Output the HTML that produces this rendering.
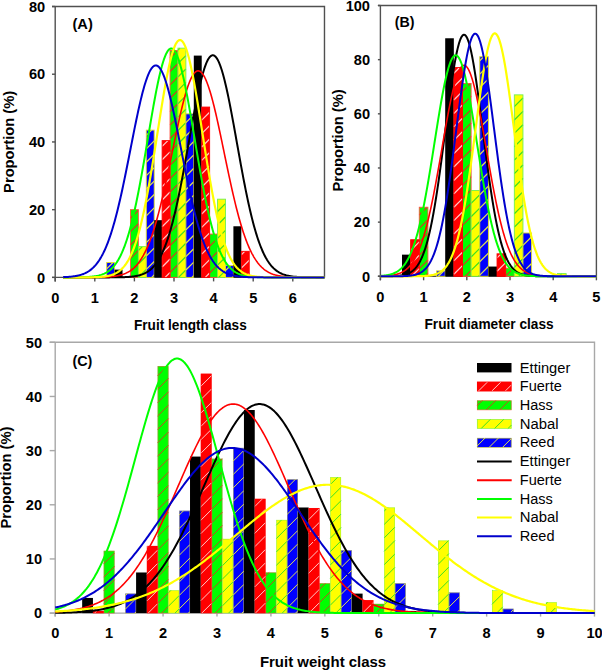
<!DOCTYPE html>
<html><head><meta charset="utf-8"><style>
html,body{margin:0;padding:0;background:#fff;}
svg{display:block;}
text{font-family:"Liberation Sans", sans-serif;fill:#000;}
</style></head><body>
<svg width="602" height="670" viewBox="0 0 602 670">

<path d="M52.00,6.50 H324.48 V277.40 M55.20,6.50 V281.40 M52.00,277.40 H324.48" fill="none" stroke="#505050" stroke-width="1.4"/>
<path d="M52.00,277.40 H55.20" stroke="#505050" stroke-width="1.4"/>
<path d="M52.00,209.67 H55.20" stroke="#505050" stroke-width="1.4"/>
<path d="M52.00,141.95 H55.20" stroke="#505050" stroke-width="1.4"/>
<path d="M52.00,74.22 H55.20" stroke="#505050" stroke-width="1.4"/>
<path d="M52.00,6.50 H55.20" stroke="#505050" stroke-width="1.4"/>
<path d="M55.20,277.40 V281.40" stroke="#505050" stroke-width="1.4"/>
<path d="M94.80,277.40 V281.40" stroke="#505050" stroke-width="1.4"/>
<path d="M134.40,277.40 V281.40" stroke="#505050" stroke-width="1.4"/>
<path d="M174.00,277.40 V281.40" stroke="#505050" stroke-width="1.4"/>
<path d="M213.60,277.40 V281.40" stroke="#505050" stroke-width="1.4"/>
<path d="M253.20,277.40 V281.40" stroke="#505050" stroke-width="1.4"/>
<path d="M292.80,277.40 V281.40" stroke="#505050" stroke-width="1.4"/>
<rect x="130.44" y="209.67" width="7.92" height="67.72" fill="#00ff00"/><path d="M130.44,218.26L138.36,210.34M130.44,231.66L138.36,223.74M130.44,245.06L138.36,237.14M130.44,258.46L138.36,250.54M130.44,271.86L138.36,263.94M138.30,277.40L138.36,277.34" stroke="#c84420" stroke-width="1.25" fill="none"/><rect x="130.44" y="209.67" width="7.92" height="67.72" fill="none" stroke="#ff5040" stroke-width="0.9"/>
<rect x="170.04" y="50.52" width="7.92" height="226.88" fill="#00ff00"/><path d="M170.04,58.06L177.58,50.52M170.04,71.46L177.96,63.54M170.04,84.86L177.96,76.94M170.04,98.26L177.96,90.34M170.04,111.66L177.96,103.74M170.04,125.06L177.96,117.14M170.04,138.46L177.96,130.54M170.04,151.86L177.96,143.94M170.04,165.26L177.96,157.34M170.04,178.66L177.96,170.74M170.04,192.06L177.96,184.14M170.04,205.46L177.96,197.54M170.04,218.86L177.96,210.94M170.04,232.26L177.96,224.34M170.04,245.66L177.96,237.74M170.04,259.06L177.96,251.14M170.04,272.46L177.96,264.54" stroke="#c84420" stroke-width="1.25" fill="none"/><rect x="170.04" y="50.52" width="7.92" height="226.88" fill="none" stroke="#ff5040" stroke-width="0.9"/>
<rect x="209.64" y="234.06" width="7.92" height="43.34" fill="#00ff00"/><path d="M209.64,246.26L217.56,238.34M209.64,259.66L217.56,251.74M209.64,273.06L217.56,265.14" stroke="#c84420" stroke-width="1.25" fill="none"/><rect x="209.64" y="234.06" width="7.92" height="43.34" fill="none" stroke="#ff5040" stroke-width="0.9"/>
<rect x="138.36" y="246.59" width="7.92" height="30.81" fill="#ffff00"/><path d="M138.36,250.54L142.31,246.59M138.36,263.94L146.28,256.02M138.36,277.34L146.28,269.42" stroke="#40e020" stroke-width="1.25" fill="none"/><rect x="138.36" y="246.59" width="7.92" height="30.81" fill="none" stroke="#70f050" stroke-width="0.9"/>
<rect x="177.96" y="48.15" width="7.92" height="229.25" fill="#ffff00"/><path d="M177.96,50.14L179.95,48.15M177.96,63.54L185.88,55.62M177.96,76.94L185.88,69.02M177.96,90.34L185.88,82.42M177.96,103.74L185.88,95.82M177.96,117.14L185.88,109.22M177.96,130.54L185.88,122.62M177.96,143.94L185.88,136.02M177.96,157.34L185.88,149.42M177.96,170.74L185.88,162.82M177.96,184.14L185.88,176.22M177.96,197.54L185.88,189.62M177.96,210.94L185.88,203.02M177.96,224.34L185.88,216.42M177.96,237.74L185.88,229.82M177.96,251.14L185.88,243.22M177.96,264.54L185.88,256.62M178.50,277.40L185.88,270.02" stroke="#40e020" stroke-width="1.25" fill="none"/><rect x="177.96" y="48.15" width="7.92" height="229.25" fill="none" stroke="#70f050" stroke-width="0.9"/>
<rect x="217.56" y="199.18" width="7.92" height="78.22" fill="#ffff00"/><path d="M217.56,211.54L225.48,203.62M217.56,224.94L225.48,217.02M217.56,238.34L225.48,230.42M217.56,251.74L225.48,243.82M217.56,265.14L225.48,257.22M218.70,277.40L225.48,270.62" stroke="#40e020" stroke-width="1.25" fill="none"/><rect x="217.56" y="199.18" width="7.92" height="78.22" fill="none" stroke="#70f050" stroke-width="0.9"/>
<rect x="106.68" y="262.50" width="7.92" height="14.90" fill="#0000ff"/><path d="M106.68,268.82L113.00,262.50M111.50,277.40L114.60,274.30" stroke="#e0e050" stroke-width="1.25" fill="none"/><rect x="106.68" y="262.50" width="7.92" height="14.90" fill="none" stroke="#e0e030" stroke-width="0.9"/>
<rect x="146.28" y="130.10" width="7.92" height="147.30" fill="#0000ff"/><path d="M146.28,135.42L151.60,130.10M146.28,148.82L154.20,140.90M146.28,162.22L154.20,154.30M146.28,175.62L154.20,167.70M146.28,189.02L154.20,181.10M146.28,202.42L154.20,194.50M146.28,215.82L154.20,207.90M146.28,229.22L154.20,221.30M146.28,242.62L154.20,234.70M146.28,256.02L154.20,248.10M146.28,269.42L154.20,261.50M151.70,277.40L154.20,274.90" stroke="#e0e050" stroke-width="1.25" fill="none"/><rect x="146.28" y="130.10" width="7.92" height="147.30" fill="none" stroke="#e0e030" stroke-width="0.9"/>
<rect x="185.88" y="113.84" width="7.92" height="163.56" fill="#0000ff"/><path d="M185.88,122.62L193.80,114.70M185.88,136.02L193.80,128.10M185.88,149.42L193.80,141.50M185.88,162.82L193.80,154.90M185.88,176.22L193.80,168.30M185.88,189.62L193.80,181.70M185.88,203.02L193.80,195.10M185.88,216.42L193.80,208.50M185.88,229.82L193.80,221.90M185.88,243.22L193.80,235.30M185.88,256.62L193.80,248.70M185.88,270.02L193.80,262.10M191.90,277.40L193.80,275.50" stroke="#e0e050" stroke-width="1.25" fill="none"/><rect x="185.88" y="113.84" width="7.92" height="163.56" fill="none" stroke="#e0e030" stroke-width="0.9"/>
<rect x="225.48" y="265.55" width="7.92" height="11.85" fill="#0000ff"/><path d="M225.48,270.62L230.55,265.55M232.10,277.40L233.40,276.10" stroke="#e0e050" stroke-width="1.25" fill="none"/><rect x="225.48" y="265.55" width="7.92" height="11.85" fill="none" stroke="#e0e030" stroke-width="0.9"/>
<rect x="114.60" y="269.61" width="7.92" height="7.79" fill="#000000"/>
<rect x="154.20" y="220.17" width="7.92" height="57.23" fill="#000000"/>
<rect x="193.80" y="55.60" width="7.92" height="221.80" fill="#000000"/>
<rect x="233.40" y="226.27" width="7.92" height="51.13" fill="#000000"/>
<rect x="162.12" y="140.60" width="7.92" height="136.80" fill="#ff0000"/><path d="M162.12,146.38L167.90,140.60M162.12,159.78L170.04,151.86M162.12,173.18L170.04,165.26M162.12,186.58L170.04,178.66M162.12,199.98L170.04,192.06M162.12,213.38L170.04,205.46M162.12,226.78L170.04,218.86M162.12,240.18L170.04,232.26M162.12,253.58L170.04,245.66M162.12,266.98L170.04,259.06M165.10,277.40L170.04,272.46" stroke="#ffc8c8" stroke-width="1.25" fill="none"/><rect x="162.12" y="140.60" width="7.92" height="136.80" fill="none" stroke="#ff0000" stroke-width="0.9"/>
<rect x="201.72" y="107.07" width="7.92" height="170.33" fill="#ff0000"/><path d="M201.72,120.18L209.64,112.26M201.72,133.58L209.64,125.66M201.72,146.98L209.64,139.06M201.72,160.38L209.64,152.46M201.72,173.78L209.64,165.86M201.72,187.18L209.64,179.26M201.72,200.58L209.64,192.66M201.72,213.98L209.64,206.06M201.72,227.38L209.64,219.46M201.72,240.78L209.64,232.86M201.72,254.18L209.64,246.26M201.72,267.58L209.64,259.66M205.30,277.40L209.64,273.06" stroke="#ffc8c8" stroke-width="1.25" fill="none"/><rect x="201.72" y="107.07" width="7.92" height="170.33" fill="none" stroke="#ff0000" stroke-width="0.9"/>
<rect x="241.32" y="251.33" width="7.92" height="26.07" fill="#ff0000"/><path d="M241.32,254.78L244.77,251.33M241.32,268.18L249.24,260.26M245.50,277.40L249.24,273.66" stroke="#ffc8c8" stroke-width="1.25" fill="none"/><rect x="241.32" y="251.33" width="7.92" height="26.07" fill="none" stroke="#ff0000" stroke-width="0.9"/>
<polyline points="63.12,277.40 63.77,277.40 64.43,277.40 65.08,277.40 65.73,277.40 66.39,277.40 67.04,277.40 67.69,277.40 68.35,277.40 69.00,277.40 69.65,277.40 70.31,277.40 70.96,277.40 71.61,277.40 72.27,277.40 72.92,277.40 73.57,277.40 74.23,277.40 74.88,277.40 75.53,277.40 76.19,277.40 76.84,277.40 77.49,277.40 78.15,277.40 78.80,277.40 79.46,277.40 80.11,277.40 80.76,277.40 81.42,277.40 82.07,277.40 82.72,277.40 83.38,277.40 84.03,277.40 84.68,277.40 85.34,277.40 85.99,277.40 86.64,277.40 87.30,277.40 87.95,277.40 88.60,277.40 89.26,277.40 89.91,277.40 90.56,277.40 91.22,277.40 91.87,277.40 92.52,277.40 93.18,277.40 93.83,277.40 94.48,277.40 95.14,277.40 95.79,277.40 96.44,277.40 97.10,277.40 97.75,277.40 98.40,277.40 99.06,277.40 99.71,277.40 100.36,277.40 101.02,277.40 101.67,277.39 102.32,277.39 102.98,277.39 103.63,277.39 104.28,277.39 104.94,277.39 105.59,277.39 106.24,277.39 106.90,277.39 107.55,277.38 108.20,277.38 108.86,277.38 109.51,277.38 110.16,277.37 110.82,277.37 111.47,277.37 112.12,277.36 112.78,277.36 113.43,277.36 114.09,277.35 114.74,277.34 115.39,277.34 116.05,277.33 116.70,277.32 117.35,277.31 118.01,277.30 118.66,277.29 119.31,277.28 119.97,277.27 120.62,277.25 121.27,277.24 121.93,277.22 122.58,277.20 123.23,277.18 123.89,277.16 124.54,277.13 125.19,277.10 125.85,277.07 126.50,277.04 127.15,277.00 127.81,276.96 128.46,276.92 129.11,276.87 129.77,276.82 130.42,276.76 131.07,276.70 131.73,276.63 132.38,276.56 133.03,276.48 133.69,276.39 134.34,276.30 134.99,276.20 135.65,276.09 136.30,275.97 136.95,275.84 137.61,275.70 138.26,275.56 138.91,275.39 139.57,275.22 140.22,275.03 140.87,274.83 141.53,274.62 142.18,274.39 142.83,274.14 143.49,273.87 144.14,273.59 144.80,273.28 145.45,272.96 146.10,272.61 146.76,272.24 147.41,271.84 148.06,271.41 148.72,270.96 149.37,270.49 150.02,269.98 150.68,269.43 151.33,268.86 151.98,268.25 152.64,267.61 153.29,266.92 153.94,266.20 154.60,265.44 155.25,264.63 155.90,263.78 156.56,262.88 157.21,261.94 157.86,260.95 158.52,259.90 159.17,258.80 159.82,257.65 160.48,256.45 161.13,255.18 161.78,253.86 162.44,252.47 163.09,251.03 163.74,249.52 164.40,247.95 165.05,246.31 165.70,244.60 166.36,242.83 167.01,240.98 167.66,239.07 168.32,237.08 168.97,235.02 169.62,232.90 170.28,230.69 170.93,228.42 171.58,226.07 172.24,223.65 172.89,221.16 173.54,218.59 174.20,215.96 174.85,213.25 175.50,210.47 176.16,207.62 176.81,204.71 177.47,201.73 178.12,198.68 178.77,195.58 179.43,192.41 180.08,189.18 180.73,185.90 181.39,182.57 182.04,179.19 182.69,175.76 183.35,172.30 184.00,168.79 184.65,165.25 185.31,161.67 185.96,158.08 186.61,154.46 187.27,150.82 187.92,147.17 188.57,143.52 189.23,139.87 189.88,136.21 190.53,132.57 191.19,128.95 191.84,125.34 192.49,121.77 193.15,118.22 193.80,114.72 194.45,111.26 195.11,107.85 195.76,104.49 196.41,101.21 197.07,97.99 197.72,94.85 198.37,91.78 199.03,88.81 199.68,85.93 200.33,83.15 200.99,80.47 201.64,77.91 202.29,75.45 202.95,73.12 203.60,70.92 204.25,68.84 204.91,66.90 205.56,65.10 206.21,63.43 206.87,61.92 207.52,60.55 208.17,59.34 208.83,58.27 209.48,57.37 210.13,56.63 210.79,56.04 211.44,55.62 212.10,55.36 212.75,55.26 213.40,55.33 214.06,55.56 214.71,55.95 215.36,56.51 216.02,57.22 216.67,58.10 217.32,59.13 217.98,60.32 218.63,61.66 219.28,63.15 219.94,64.78 220.59,66.56 221.24,68.48 221.90,70.53 222.55,72.71 223.20,75.02 223.86,77.45 224.51,80.00 225.16,82.65 225.82,85.42 226.47,88.28 227.12,91.24 227.78,94.28 228.43,97.41 229.08,100.62 229.74,103.89 230.39,107.23 231.04,110.63 231.70,114.08 232.35,117.58 233.00,121.12 233.66,124.69 234.31,128.29 234.96,131.91 235.62,135.55 236.27,139.20 236.92,142.86 237.58,146.51 238.23,150.16 238.88,153.80 239.54,157.42 240.19,161.02 240.84,164.60 241.50,168.15 242.15,171.66 242.81,175.14 243.46,178.57 244.11,181.96 244.77,185.30 245.42,188.59 246.07,191.83 246.73,195.00 247.38,198.12 248.03,201.18 248.69,204.17 249.34,207.10 249.99,209.96 250.65,212.75 251.30,215.47 251.95,218.12 252.61,220.70 253.26,223.20 253.91,225.64 254.57,228.00 255.22,230.29 255.87,232.50 256.53,234.64 257.18,236.71 257.83,238.71 258.49,240.64 259.14,242.50 259.79,244.28 260.45,246.00 261.10,247.65 261.75,249.24 262.41,250.76 263.06,252.22 263.71,253.61 264.37,254.95 265.02,256.22 265.67,257.44 266.33,258.60 266.98,259.71 267.63,260.76 268.29,261.76 268.94,262.71 269.59,263.62 270.25,264.48 270.90,265.29 271.55,266.06 272.21,266.79 272.86,267.48 273.51,268.14 274.17,268.75 274.82,269.33 275.48,269.88 276.13,270.39 276.78,270.88 277.44,271.34 278.09,271.76 278.74,272.16 279.40,272.54 280.05,272.89 280.70,273.22 281.36,273.53 282.01,273.82 282.66,274.09 283.32,274.34 283.97,274.58 284.62,274.80 285.28,275.00 285.93,275.19 286.58,275.36 287.24,275.53 287.89,275.68 288.54,275.82 289.20,275.95 289.85,276.07 290.50,276.18 291.16,276.28 291.81,276.38 292.46,276.46 293.12,276.55 293.77,276.62 294.42,276.69 295.08,276.75 295.73,276.81 296.38,276.86 297.04,276.91 297.69,276.95 298.34,277.00 299.00,277.03 299.65,277.07 300.30,277.10 300.96,277.13 301.61,277.15 302.26,277.18 302.92,277.20 303.57,277.22 304.22,277.23 304.88,277.25 305.53,277.27 306.18,277.28 306.84,277.29 307.49,277.30 308.15,277.31 308.80,277.32 309.45,277.33 310.11,277.34 310.76,277.34 311.41,277.35 312.07,277.35 312.72,277.36 313.37,277.36 314.03,277.37 314.68,277.37 315.33,277.37 315.99,277.38 316.64,277.38 317.29,277.38 317.95,277.38 318.60,277.39 319.25,277.39 319.91,277.39 320.56,277.39 321.21,277.39 321.87,277.39 322.52,277.39 323.17,277.39 323.83,277.39 324.48,277.40" fill="none" stroke="#000000" stroke-width="2.0" stroke-linejoin="round"/>
<polyline points="63.12,277.40 63.77,277.40 64.43,277.40 65.08,277.40 65.73,277.40 66.39,277.40 67.04,277.40 67.69,277.40 68.35,277.40 69.00,277.40 69.65,277.40 70.31,277.40 70.96,277.40 71.61,277.40 72.27,277.40 72.92,277.40 73.57,277.40 74.23,277.40 74.88,277.40 75.53,277.40 76.19,277.40 76.84,277.40 77.49,277.40 78.15,277.40 78.80,277.39 79.46,277.39 80.11,277.39 80.76,277.39 81.42,277.39 82.07,277.39 82.72,277.39 83.38,277.39 84.03,277.39 84.68,277.39 85.34,277.38 85.99,277.38 86.64,277.38 87.30,277.38 87.95,277.38 88.60,277.37 89.26,277.37 89.91,277.37 90.56,277.36 91.22,277.36 91.87,277.35 92.52,277.35 93.18,277.34 93.83,277.34 94.48,277.33 95.14,277.32 95.79,277.32 96.44,277.31 97.10,277.30 97.75,277.29 98.40,277.28 99.06,277.26 99.71,277.25 100.36,277.23 101.02,277.22 101.67,277.20 102.32,277.18 102.98,277.16 103.63,277.14 104.28,277.11 104.94,277.08 105.59,277.05 106.24,277.02 106.90,276.98 107.55,276.95 108.20,276.90 108.86,276.86 109.51,276.81 110.16,276.76 110.82,276.70 111.47,276.64 112.12,276.57 112.78,276.50 113.43,276.42 114.09,276.34 114.74,276.25 115.39,276.15 116.05,276.04 116.70,275.93 117.35,275.81 118.01,275.68 118.66,275.54 119.31,275.39 119.97,275.23 120.62,275.06 121.27,274.88 121.93,274.69 122.58,274.48 123.23,274.25 123.89,274.02 124.54,273.76 125.19,273.50 125.85,273.21 126.50,272.90 127.15,272.58 127.81,272.24 128.46,271.87 129.11,271.49 129.77,271.08 130.42,270.64 131.07,270.19 131.73,269.70 132.38,269.19 133.03,268.65 133.69,268.08 134.34,267.48 134.99,266.84 135.65,266.18 136.30,265.48 136.95,264.74 137.61,263.97 138.26,263.16 138.91,262.30 139.57,261.41 140.22,260.48 140.87,259.50 141.53,258.48 142.18,257.41 142.83,256.30 143.49,255.14 144.14,253.93 144.80,252.67 145.45,251.36 146.10,250.00 146.76,248.58 147.41,247.11 148.06,245.58 148.72,244.00 149.37,242.37 150.02,240.67 150.68,238.92 151.33,237.11 151.98,235.25 152.64,233.32 153.29,231.34 153.94,229.30 154.60,227.19 155.25,225.03 155.90,222.82 156.56,220.54 157.21,218.21 157.86,215.82 158.52,213.38 159.17,210.88 159.82,208.32 160.48,205.72 161.13,203.06 161.78,200.35 162.44,197.60 163.09,194.80 163.74,191.96 164.40,189.07 165.05,186.15 165.70,183.19 166.36,180.19 167.01,177.17 167.66,174.11 168.32,171.03 168.97,167.93 169.62,164.81 170.28,161.67 170.93,158.53 171.58,155.37 172.24,152.21 172.89,149.05 173.54,145.89 174.20,142.74 174.85,139.61 175.50,136.49 176.16,133.39 176.81,130.32 177.47,127.28 178.12,124.27 178.77,121.30 179.43,118.38 180.08,115.50 180.73,112.67 181.39,109.91 182.04,107.20 182.69,104.56 183.35,102.00 184.00,99.51 184.65,97.09 185.31,94.76 185.96,92.52 186.61,90.37 187.27,88.32 187.92,86.36 188.57,84.51 189.23,82.76 189.88,81.12 190.53,79.60 191.19,78.18 191.84,76.89 192.49,75.72 193.15,74.67 193.80,73.74 194.45,72.94 195.11,72.27 195.76,71.72 196.41,71.31 197.07,71.02 197.72,70.87 198.37,70.85 199.03,70.96 199.68,71.20 200.33,71.57 200.99,72.07 201.64,72.70 202.29,73.46 202.95,74.34 203.60,75.35 204.25,76.49 204.91,77.74 205.56,79.11 206.21,80.60 206.87,82.20 207.52,83.91 208.17,85.73 208.83,87.65 209.48,89.67 210.13,91.79 210.79,94.01 211.44,96.31 212.10,98.69 212.75,101.16 213.40,103.70 214.06,106.32 214.71,109.00 215.36,111.75 216.02,114.55 216.67,117.41 217.32,120.32 217.98,123.27 218.63,126.27 219.28,129.30 219.94,132.36 220.59,135.45 221.24,138.57 221.90,141.70 222.55,144.84 223.20,148.00 223.86,151.16 224.51,154.32 225.16,157.47 225.82,160.63 226.47,163.77 227.12,166.89 227.78,170.00 228.43,173.09 229.08,176.15 229.74,179.19 230.39,182.20 231.04,185.17 231.70,188.10 232.35,191.00 233.00,193.86 233.66,196.67 234.31,199.44 234.96,202.16 235.62,204.84 236.27,207.46 236.92,210.03 237.58,212.55 238.23,215.01 238.88,217.42 239.54,219.77 240.19,222.07 240.84,224.30 241.50,226.48 242.15,228.60 242.81,230.66 243.46,232.67 244.11,234.61 244.77,236.50 245.42,238.33 246.07,240.10 246.73,241.81 247.38,243.46 248.03,245.06 248.69,246.61 249.34,248.10 249.99,249.53 250.65,250.91 251.30,252.24 251.95,253.52 252.61,254.74 253.26,255.92 253.91,257.05 254.57,258.13 255.22,259.17 255.87,260.16 256.53,261.11 257.18,262.01 257.83,262.88 258.49,263.70 259.14,264.49 259.79,265.24 260.45,265.95 261.10,266.63 261.75,267.27 262.41,267.88 263.06,268.46 263.71,269.01 264.37,269.53 265.02,270.03 265.67,270.49 266.33,270.94 266.98,271.35 267.63,271.75 268.29,272.12 268.94,272.47 269.59,272.80 270.25,273.11 270.90,273.40 271.55,273.68 272.21,273.93 272.86,274.18 273.51,274.40 274.17,274.62 274.82,274.82 275.48,275.00 276.13,275.18 276.78,275.34 277.44,275.49 278.09,275.64 278.74,275.77 279.40,275.89 280.05,276.01 280.70,276.11 281.36,276.21 282.01,276.31 282.66,276.39 283.32,276.47 283.97,276.55 284.62,276.62 285.28,276.68 285.93,276.74 286.58,276.79 287.24,276.84 287.89,276.89 288.54,276.93 289.20,276.97 289.85,277.01 290.50,277.04 291.16,277.07 291.81,277.10 292.46,277.13 293.12,277.15 293.77,277.17 294.42,277.19 295.08,277.21 295.73,277.23 296.38,277.24 297.04,277.26 297.69,277.27 298.34,277.28 299.00,277.29 299.65,277.30 300.30,277.31 300.96,277.32 301.61,277.33 302.26,277.34 302.92,277.34 303.57,277.35 304.22,277.35 304.88,277.36 305.53,277.36 306.18,277.37 306.84,277.37 307.49,277.37 308.15,277.37 308.80,277.38 309.45,277.38 310.11,277.38 310.76,277.38 311.41,277.39 312.07,277.39 312.72,277.39 313.37,277.39 314.03,277.39 314.68,277.39 315.33,277.39 315.99,277.39 316.64,277.39 317.29,277.39 317.95,277.40 318.60,277.40 319.25,277.40 319.91,277.40 320.56,277.40 321.21,277.40 321.87,277.40 322.52,277.40 323.17,277.40 323.83,277.40 324.48,277.40" fill="none" stroke="#ff0000" stroke-width="1.6" stroke-linejoin="round"/>
<polyline points="63.12,277.39 63.77,277.39 64.43,277.39 65.08,277.39 65.73,277.39 66.39,277.39 67.04,277.39 67.69,277.39 68.35,277.39 69.00,277.38 69.65,277.38 70.31,277.38 70.96,277.38 71.61,277.37 72.27,277.37 72.92,277.37 73.57,277.36 74.23,277.36 74.88,277.35 75.53,277.35 76.19,277.34 76.84,277.33 77.49,277.33 78.15,277.32 78.80,277.31 79.46,277.30 80.11,277.29 80.76,277.27 81.42,277.26 82.07,277.24 82.72,277.22 83.38,277.20 84.03,277.18 84.68,277.16 85.34,277.13 85.99,277.10 86.64,277.07 87.30,277.04 87.95,277.00 88.60,276.96 89.26,276.91 89.91,276.86 90.56,276.81 91.22,276.75 91.87,276.68 92.52,276.61 93.18,276.53 93.83,276.45 94.48,276.36 95.14,276.26 95.79,276.15 96.44,276.03 97.10,275.90 97.75,275.77 98.40,275.62 99.06,275.46 99.71,275.28 100.36,275.09 101.02,274.89 101.67,274.67 102.32,274.44 102.98,274.18 103.63,273.91 104.28,273.62 104.94,273.30 105.59,272.97 106.24,272.61 106.90,272.22 107.55,271.81 108.20,271.37 108.86,270.90 109.51,270.40 110.16,269.86 110.82,269.30 111.47,268.69 112.12,268.05 112.78,267.37 113.43,266.65 114.09,265.88 114.74,265.07 115.39,264.21 116.05,263.31 116.70,262.35 117.35,261.34 118.01,260.28 118.66,259.16 119.31,257.99 119.97,256.75 120.62,255.46 121.27,254.09 121.93,252.67 122.58,251.18 123.23,249.62 123.89,247.99 124.54,246.28 125.19,244.51 125.85,242.66 126.50,240.74 127.15,238.74 127.81,236.66 128.46,234.50 129.11,232.27 129.77,229.95 130.42,227.56 131.07,225.09 131.73,222.54 132.38,219.90 133.03,217.19 133.69,214.40 134.34,211.53 134.99,208.59 135.65,205.57 136.30,202.47 136.95,199.31 137.61,196.07 138.26,192.76 138.91,189.39 139.57,185.96 140.22,182.47 140.87,178.92 141.53,175.32 142.18,171.67 142.83,167.97 143.49,164.23 144.14,160.46 144.80,156.66 145.45,152.82 146.10,148.97 146.76,145.11 147.41,141.23 148.06,137.35 148.72,133.47 149.37,129.60 150.02,125.74 150.68,121.90 151.33,118.09 151.98,114.32 152.64,110.59 153.29,106.90 153.94,103.27 154.60,99.70 155.25,96.20 155.90,92.78 156.56,89.43 157.21,86.18 157.86,83.02 158.52,79.97 159.17,77.02 159.82,74.19 160.48,71.48 161.13,68.89 161.78,66.44 162.44,64.13 163.09,61.96 163.74,59.93 164.40,58.06 165.05,56.35 165.70,54.80 166.36,53.41 167.01,52.19 167.66,51.14 168.32,50.26 168.97,49.55 169.62,49.03 170.28,48.68 170.93,48.51 171.58,48.52 172.24,48.70 172.89,49.07 173.54,49.61 174.20,50.33 174.85,51.22 175.50,52.29 176.16,53.53 176.81,54.93 177.47,56.50 178.12,58.23 178.77,60.11 179.43,62.15 180.08,64.33 180.73,66.66 181.39,69.12 182.04,71.72 182.69,74.44 183.35,77.28 184.00,80.24 184.65,83.31 185.31,86.47 185.96,89.73 186.61,93.08 187.27,96.52 187.92,100.02 188.57,103.60 189.23,107.23 189.88,110.92 190.53,114.66 191.19,118.44 191.84,122.25 192.49,126.09 193.15,129.95 193.80,133.82 194.45,137.70 195.11,141.58 195.76,145.46 196.41,149.32 197.07,153.17 197.72,157.00 198.37,160.80 199.03,164.57 199.68,168.31 200.33,172.00 200.99,175.65 201.64,179.24 202.29,182.79 202.95,186.28 203.60,189.70 204.25,193.07 204.91,196.37 205.56,199.60 206.21,202.76 206.87,205.84 207.52,208.86 208.17,211.80 208.83,214.66 209.48,217.44 210.13,220.15 210.79,222.77 211.44,225.32 212.10,227.78 212.75,230.17 213.40,232.47 214.06,234.70 214.71,236.85 215.36,238.92 216.02,240.91 216.67,242.83 217.32,244.67 217.98,246.44 218.63,248.14 219.28,249.76 219.94,251.31 220.59,252.80 221.24,254.22 221.90,255.58 222.55,256.87 223.20,258.10 223.86,259.27 224.51,260.38 225.16,261.44 225.82,262.44 226.47,263.39 227.12,264.29 227.78,265.15 228.43,265.95 229.08,266.71 229.74,267.43 230.39,268.11 231.04,268.75 231.70,269.35 232.35,269.91 233.00,270.44 233.66,270.94 234.31,271.41 234.96,271.85 235.62,272.26 236.27,272.64 236.92,273.00 237.58,273.33 238.23,273.64 238.88,273.93 239.54,274.21 240.19,274.46 240.84,274.69 241.50,274.91 242.15,275.11 242.81,275.30 243.46,275.47 244.11,275.63 244.77,275.78 245.42,275.92 246.07,276.04 246.73,276.16 247.38,276.27 248.03,276.37 248.69,276.46 249.34,276.54 249.99,276.62 250.65,276.69 251.30,276.75 251.95,276.81 252.61,276.87 253.26,276.92 253.91,276.96 254.57,277.00 255.22,277.04 255.87,277.08 256.53,277.11 257.18,277.14 257.83,277.16 258.49,277.19 259.14,277.21 259.79,277.23 260.45,277.24 261.10,277.26 261.75,277.27 262.41,277.29 263.06,277.30 263.71,277.31 264.37,277.32 265.02,277.33 265.67,277.33 266.33,277.34 266.98,277.35 267.63,277.35 268.29,277.36 268.94,277.36 269.59,277.37 270.25,277.37 270.90,277.37 271.55,277.38 272.21,277.38 272.86,277.38 273.51,277.38 274.17,277.39 274.82,277.39 275.48,277.39 276.13,277.39 276.78,277.39 277.44,277.39 278.09,277.39 278.74,277.39 279.40,277.39 280.05,277.40 280.70,277.40 281.36,277.40 282.01,277.40 282.66,277.40 283.32,277.40 283.97,277.40 284.62,277.40 285.28,277.40 285.93,277.40 286.58,277.40 287.24,277.40 287.89,277.40 288.54,277.40 289.20,277.40 289.85,277.40 290.50,277.40 291.16,277.40 291.81,277.40 292.46,277.40 293.12,277.40 293.77,277.40 294.42,277.40 295.08,277.40 295.73,277.40 296.38,277.40 297.04,277.40 297.69,277.40 298.34,277.40 299.00,277.40 299.65,277.40 300.30,277.40 300.96,277.40 301.61,277.40 302.26,277.40 302.92,277.40 303.57,277.40 304.22,277.40 304.88,277.40 305.53,277.40 306.18,277.40 306.84,277.40 307.49,277.40 308.15,277.40 308.80,277.40 309.45,277.40 310.11,277.40 310.76,277.40 311.41,277.40 312.07,277.40 312.72,277.40 313.37,277.40 314.03,277.40 314.68,277.40 315.33,277.40 315.99,277.40 316.64,277.40 317.29,277.40 317.95,277.40 318.60,277.40 319.25,277.40 319.91,277.40 320.56,277.40 321.21,277.40 321.87,277.40 322.52,277.40 323.17,277.40 323.83,277.40 324.48,277.40" fill="none" stroke="#00ff00" stroke-width="2.0" stroke-linejoin="round"/>
<polyline points="63.12,277.40 63.77,277.40 64.43,277.40 65.08,277.40 65.73,277.40 66.39,277.40 67.04,277.40 67.69,277.40 68.35,277.40 69.00,277.40 69.65,277.40 70.31,277.40 70.96,277.40 71.61,277.40 72.27,277.40 72.92,277.40 73.57,277.40 74.23,277.40 74.88,277.40 75.53,277.39 76.19,277.39 76.84,277.39 77.49,277.39 78.15,277.39 78.80,277.39 79.46,277.39 80.11,277.39 80.76,277.39 81.42,277.38 82.07,277.38 82.72,277.38 83.38,277.38 84.03,277.37 84.68,277.37 85.34,277.36 85.99,277.36 86.64,277.35 87.30,277.35 87.95,277.34 88.60,277.34 89.26,277.33 89.91,277.32 90.56,277.31 91.22,277.30 91.87,277.29 92.52,277.27 93.18,277.26 93.83,277.24 94.48,277.22 95.14,277.20 95.79,277.18 96.44,277.15 97.10,277.12 97.75,277.09 98.40,277.06 99.06,277.02 99.71,276.98 100.36,276.93 101.02,276.88 101.67,276.83 102.32,276.77 102.98,276.70 103.63,276.63 104.28,276.55 104.94,276.47 105.59,276.37 106.24,276.27 106.90,276.16 107.55,276.04 108.20,275.90 108.86,275.76 109.51,275.60 110.16,275.43 110.82,275.25 111.47,275.05 112.12,274.83 112.78,274.60 113.43,274.35 114.09,274.08 114.74,273.79 115.39,273.47 116.05,273.13 116.70,272.77 117.35,272.38 118.01,271.96 118.66,271.51 119.31,271.03 119.97,270.52 120.62,269.97 121.27,269.39 121.93,268.76 122.58,268.09 123.23,267.39 123.89,266.63 124.54,265.83 125.19,264.98 125.85,264.08 126.50,263.13 127.15,262.12 127.81,261.05 128.46,259.93 129.11,258.74 129.77,257.49 130.42,256.17 131.07,254.78 131.73,253.32 132.38,251.79 133.03,250.19 133.69,248.51 134.34,246.75 134.99,244.91 135.65,242.99 136.30,240.99 136.95,238.90 137.61,236.73 138.26,234.47 138.91,232.13 139.57,229.69 140.22,227.17 140.87,224.56 141.53,221.86 142.18,219.07 142.83,216.19 143.49,213.23 144.14,210.18 144.80,207.04 145.45,203.81 146.10,200.51 146.76,197.12 147.41,193.65 148.06,190.11 148.72,186.49 149.37,182.81 150.02,179.05 150.68,175.24 151.33,171.36 151.98,167.43 152.64,163.45 153.29,159.43 153.94,155.37 154.60,151.27 155.25,147.14 155.90,143.00 156.56,138.83 157.21,134.66 157.86,130.49 158.52,126.32 159.17,122.16 159.82,118.03 160.48,113.92 161.13,109.84 161.78,105.81 162.44,101.83 163.09,97.91 163.74,94.05 164.40,90.27 165.05,86.57 165.70,82.96 166.36,79.45 167.01,76.04 167.66,72.75 168.32,69.58 168.97,66.54 169.62,63.63 170.28,60.87 170.93,58.25 171.58,55.79 172.24,53.49 172.89,51.36 173.54,49.39 174.20,47.60 174.85,46.00 175.50,44.58 176.16,43.34 176.81,42.30 177.47,41.45 178.12,40.80 178.77,40.34 179.43,40.09 180.08,40.03 180.73,40.17 181.39,40.51 182.04,41.05 182.69,41.79 183.35,42.72 184.00,43.84 184.65,45.16 185.31,46.66 185.96,48.34 186.61,50.20 187.27,52.24 187.92,54.45 188.57,56.82 189.23,59.34 189.88,62.02 190.53,64.85 191.19,67.81 191.84,70.91 192.49,74.13 193.15,77.47 193.80,80.93 194.45,84.48 195.11,88.13 195.76,91.86 196.41,95.68 197.07,99.56 197.72,103.51 198.37,107.51 199.03,111.57 199.68,115.66 200.33,119.78 200.99,123.92 201.64,128.09 202.29,132.26 202.95,136.43 203.60,140.60 204.25,144.76 204.91,148.90 205.56,153.01 206.21,157.10 206.87,161.14 207.52,165.15 208.17,169.11 208.83,173.01 209.48,176.86 210.13,180.65 210.79,184.38 211.44,188.04 212.10,191.62 212.75,195.13 213.40,198.57 214.06,201.92 214.71,205.19 215.36,208.38 216.02,211.48 216.67,214.50 217.32,217.43 217.98,220.27 218.63,223.02 219.28,225.68 219.94,228.25 220.59,230.74 221.24,233.13 221.90,235.44 222.55,237.66 223.20,239.80 223.86,241.85 224.51,243.82 225.16,245.70 225.82,247.50 226.47,249.23 227.12,250.88 227.78,252.45 228.43,253.95 229.08,255.38 229.74,256.73 230.39,258.03 231.04,259.25 231.70,260.41 232.35,261.51 233.00,262.56 233.66,263.54 234.31,264.47 234.96,265.35 235.62,266.18 236.27,266.96 236.92,267.69 237.58,268.38 238.23,269.03 238.88,269.64 239.54,270.21 240.19,270.74 240.84,271.24 241.50,271.71 242.15,272.14 242.81,272.55 243.46,272.93 244.11,273.28 244.77,273.61 245.42,273.91 246.07,274.20 246.73,274.46 247.38,274.70 248.03,274.93 248.69,275.14 249.34,275.33 249.99,275.51 250.65,275.67 251.30,275.82 251.95,275.96 252.61,276.09 253.26,276.21 253.91,276.31 254.57,276.41 255.22,276.50 255.87,276.59 256.53,276.66 257.18,276.73 257.83,276.80 258.49,276.85 259.14,276.91 259.79,276.95 260.45,277.00 261.10,277.04 261.75,277.07 262.41,277.11 263.06,277.14 263.71,277.16 264.37,277.19 265.02,277.21 265.67,277.23 266.33,277.25 266.98,277.26 267.63,277.28 268.29,277.29 268.94,277.30 269.59,277.31 270.25,277.32 270.90,277.33 271.55,277.34 272.21,277.35 272.86,277.35 273.51,277.36 274.17,277.36 274.82,277.37 275.48,277.37 276.13,277.37 276.78,277.38 277.44,277.38 278.09,277.38 278.74,277.38 279.40,277.39 280.05,277.39 280.70,277.39 281.36,277.39 282.01,277.39 282.66,277.39 283.32,277.39 283.97,277.39 284.62,277.40 285.28,277.40 285.93,277.40 286.58,277.40 287.24,277.40 287.89,277.40 288.54,277.40 289.20,277.40 289.85,277.40 290.50,277.40 291.16,277.40 291.81,277.40 292.46,277.40 293.12,277.40 293.77,277.40 294.42,277.40 295.08,277.40 295.73,277.40 296.38,277.40 297.04,277.40 297.69,277.40 298.34,277.40 299.00,277.40 299.65,277.40 300.30,277.40 300.96,277.40 301.61,277.40 302.26,277.40 302.92,277.40 303.57,277.40 304.22,277.40 304.88,277.40 305.53,277.40 306.18,277.40 306.84,277.40 307.49,277.40 308.15,277.40 308.80,277.40 309.45,277.40 310.11,277.40 310.76,277.40 311.41,277.40 312.07,277.40 312.72,277.40 313.37,277.40 314.03,277.40 314.68,277.40 315.33,277.40 315.99,277.40 316.64,277.40 317.29,277.40 317.95,277.40 318.60,277.40 319.25,277.40 319.91,277.40 320.56,277.40 321.21,277.40 321.87,277.40 322.52,277.40 323.17,277.40 323.83,277.40 324.48,277.40" fill="none" stroke="#ffff00" stroke-width="2.2" stroke-linejoin="round"/>
<polyline points="63.12,277.15 63.77,277.12 64.43,277.10 65.08,277.07 65.73,277.04 66.39,277.00 67.04,276.96 67.69,276.92 68.35,276.88 69.00,276.83 69.65,276.77 70.31,276.72 70.96,276.65 71.61,276.59 72.27,276.51 72.92,276.43 73.57,276.35 74.23,276.26 74.88,276.16 75.53,276.05 76.19,275.93 76.84,275.81 77.49,275.68 78.15,275.53 78.80,275.38 79.46,275.21 80.11,275.04 80.76,274.85 81.42,274.64 82.07,274.42 82.72,274.19 83.38,273.94 84.03,273.68 84.68,273.39 85.34,273.09 85.99,272.77 86.64,272.43 87.30,272.07 87.95,271.68 88.60,271.27 89.26,270.83 89.91,270.37 90.56,269.88 91.22,269.37 91.87,268.82 92.52,268.24 93.18,267.63 93.83,266.99 94.48,266.31 95.14,265.59 95.79,264.84 96.44,264.04 97.10,263.21 97.75,262.33 98.40,261.42 99.06,260.45 99.71,259.44 100.36,258.39 101.02,257.28 101.67,256.12 102.32,254.92 102.98,253.66 103.63,252.34 104.28,250.98 104.94,249.55 105.59,248.07 106.24,246.53 106.90,244.93 107.55,243.27 108.20,241.55 108.86,239.77 109.51,237.93 110.16,236.03 110.82,234.06 111.47,232.03 112.12,229.93 112.78,227.77 113.43,225.55 114.09,223.27 114.74,220.92 115.39,218.51 116.05,216.04 116.70,213.51 117.35,210.92 118.01,208.27 118.66,205.56 119.31,202.80 119.97,199.98 120.62,197.11 121.27,194.18 121.93,191.21 122.58,188.20 123.23,185.14 123.89,182.04 124.54,178.90 125.19,175.72 125.85,172.52 126.50,169.28 127.15,166.02 127.81,162.74 128.46,159.44 129.11,156.13 129.77,152.80 130.42,149.48 131.07,146.15 131.73,142.82 132.38,139.51 133.03,136.20 133.69,132.92 134.34,129.65 134.99,126.42 135.65,123.21 136.30,120.05 136.95,116.93 137.61,113.85 138.26,110.83 138.91,107.86 139.57,104.96 140.22,102.13 140.87,99.37 141.53,96.68 142.18,94.08 142.83,91.57 143.49,89.15 144.14,86.82 144.80,84.59 145.45,82.47 146.10,80.46 146.76,78.56 147.41,76.78 148.06,75.12 148.72,73.57 149.37,72.16 150.02,70.87 150.68,69.72 151.33,68.70 151.98,67.81 152.64,67.06 153.29,66.45 153.94,65.98 154.60,65.66 155.25,65.47 155.90,65.42 156.56,65.52 157.21,65.76 157.86,66.14 158.52,66.66 159.17,67.32 159.82,68.12 160.48,69.05 161.13,70.12 161.78,71.33 162.44,72.66 163.09,74.12 163.74,75.71 164.40,77.41 165.05,79.24 165.70,81.18 166.36,83.23 167.01,85.39 167.66,87.65 168.32,90.02 168.97,92.47 169.62,95.02 170.28,97.65 170.93,100.36 171.58,103.15 172.24,106.01 172.89,108.93 173.54,111.92 174.20,114.96 174.85,118.06 175.50,121.20 176.16,124.38 176.81,127.59 177.47,130.84 178.12,134.11 178.77,137.40 179.43,140.71 180.08,144.03 180.73,147.36 181.39,150.69 182.04,154.01 182.69,157.33 183.35,160.64 184.00,163.93 184.65,167.21 185.31,170.46 185.96,173.68 186.61,176.88 187.27,180.04 187.92,183.17 188.57,186.25 189.23,189.30 189.88,192.30 190.53,195.25 191.19,198.16 191.84,201.01 192.49,203.81 193.15,206.55 193.80,209.24 194.45,211.87 195.11,214.44 195.76,216.95 196.41,219.40 197.07,221.78 197.72,224.11 198.37,226.37 199.03,228.57 199.68,230.70 200.33,232.77 200.99,234.78 201.64,236.73 202.29,238.61 202.95,240.43 203.60,242.19 204.25,243.88 204.91,245.52 205.56,247.10 206.21,248.61 206.87,250.08 207.52,251.48 208.17,252.83 208.83,254.12 209.48,255.36 210.13,256.55 210.79,257.69 211.44,258.77 212.10,259.81 212.75,260.81 213.40,261.75 214.06,262.66 214.71,263.52 215.36,264.34 216.02,265.12 216.67,265.86 217.32,266.56 217.98,267.22 218.63,267.86 219.28,268.46 219.94,269.02 220.59,269.56 221.24,270.07 221.90,270.54 222.55,271.00 223.20,271.42 223.86,271.82 224.51,272.20 225.16,272.56 225.82,272.89 226.47,273.21 227.12,273.50 227.78,273.78 228.43,274.04 229.08,274.28 229.74,274.51 230.39,274.72 231.04,274.92 231.70,275.10 232.35,275.27 233.00,275.44 233.66,275.59 234.31,275.73 234.96,275.86 235.62,275.98 236.27,276.09 236.92,276.19 237.58,276.29 238.23,276.38 238.88,276.46 239.54,276.54 240.19,276.61 240.84,276.68 241.50,276.74 242.15,276.79 242.81,276.84 243.46,276.89 244.11,276.94 244.77,276.98 245.42,277.01 246.07,277.05 246.73,277.08 247.38,277.11 248.03,277.13 248.69,277.16 249.34,277.18 249.99,277.20 250.65,277.22 251.30,277.24 251.95,277.25 252.61,277.27 253.26,277.28 253.91,277.29 254.57,277.30 255.22,277.31 255.87,277.32 256.53,277.33 257.18,277.33 257.83,277.34 258.49,277.35 259.14,277.35 259.79,277.36 260.45,277.36 261.10,277.36 261.75,277.37 262.41,277.37 263.06,277.37 263.71,277.38 264.37,277.38 265.02,277.38 265.67,277.38 266.33,277.39 266.98,277.39 267.63,277.39 268.29,277.39 268.94,277.39 269.59,277.39 270.25,277.39 270.90,277.39 271.55,277.39 272.21,277.39 272.86,277.40 273.51,277.40 274.17,277.40 274.82,277.40 275.48,277.40 276.13,277.40 276.78,277.40 277.44,277.40 278.09,277.40 278.74,277.40 279.40,277.40 280.05,277.40 280.70,277.40 281.36,277.40 282.01,277.40 282.66,277.40 283.32,277.40 283.97,277.40 284.62,277.40 285.28,277.40 285.93,277.40 286.58,277.40 287.24,277.40 287.89,277.40 288.54,277.40 289.20,277.40 289.85,277.40 290.50,277.40 291.16,277.40 291.81,277.40 292.46,277.40 293.12,277.40 293.77,277.40 294.42,277.40 295.08,277.40 295.73,277.40 296.38,277.40 297.04,277.40 297.69,277.40 298.34,277.40 299.00,277.40 299.65,277.40 300.30,277.40 300.96,277.40 301.61,277.40 302.26,277.40 302.92,277.40 303.57,277.40 304.22,277.40 304.88,277.40 305.53,277.40 306.18,277.40 306.84,277.40 307.49,277.40 308.15,277.40 308.80,277.40 309.45,277.40 310.11,277.40 310.76,277.40 311.41,277.40 312.07,277.40 312.72,277.40 313.37,277.40 314.03,277.40 314.68,277.40 315.33,277.40 315.99,277.40 316.64,277.40 317.29,277.40 317.95,277.40 318.60,277.40 319.25,277.40 319.91,277.40 320.56,277.40 321.21,277.40 321.87,277.40 322.52,277.40 323.17,277.40 323.83,277.40 324.48,277.40" fill="none" stroke="#0000cc" stroke-width="2.0" stroke-linejoin="round"/>
<text x="45.20" y="282.66" text-anchor="end" font-size="14.6" font-weight="bold">0</text>
<text x="45.20" y="214.93" text-anchor="end" font-size="14.6" font-weight="bold">20</text>
<text x="45.20" y="147.21" text-anchor="end" font-size="14.6" font-weight="bold">40</text>
<text x="45.20" y="79.48" text-anchor="end" font-size="14.6" font-weight="bold">60</text>
<text x="45.20" y="11.76" text-anchor="end" font-size="14.6" font-weight="bold">80</text>
<text x="55.20" y="303.20" text-anchor="middle" font-size="14.6" font-weight="bold">0</text>
<text x="94.80" y="303.20" text-anchor="middle" font-size="14.6" font-weight="bold">1</text>
<text x="134.40" y="303.20" text-anchor="middle" font-size="14.6" font-weight="bold">2</text>
<text x="174.00" y="303.20" text-anchor="middle" font-size="14.6" font-weight="bold">3</text>
<text x="213.60" y="303.20" text-anchor="middle" font-size="14.6" font-weight="bold">4</text>
<text x="253.20" y="303.20" text-anchor="middle" font-size="14.6" font-weight="bold">5</text>
<text x="292.80" y="303.20" text-anchor="middle" font-size="14.6" font-weight="bold">6</text>
<text x="134.00" y="330.20" font-size="14.6" font-weight="bold" textLength="112.70" lengthAdjust="spacingAndGlyphs">Fruit length class</text>
<text transform="translate(13.80,192.90) rotate(-90)" x="0" y="0" font-size="14.6" font-weight="bold" textLength="102.10" lengthAdjust="spacingAndGlyphs">Proportion (%)</text>
<text x="72.50" y="28.70" font-size="14.6" font-weight="bold" textLength="20.30" lengthAdjust="spacingAndGlyphs">(A)</text>
<path d="M377.90,5.50 H596.40 V276.30 M380.40,5.50 V280.30 M377.90,276.30 H596.40" fill="none" stroke="#505050" stroke-width="1.4"/>
<path d="M377.90,276.30 H380.40" stroke="#505050" stroke-width="1.4"/>
<path d="M377.90,222.14 H380.40" stroke="#505050" stroke-width="1.4"/>
<path d="M377.90,167.98 H380.40" stroke="#505050" stroke-width="1.4"/>
<path d="M377.90,113.82 H380.40" stroke="#505050" stroke-width="1.4"/>
<path d="M377.90,59.66 H380.40" stroke="#505050" stroke-width="1.4"/>
<path d="M377.90,5.50 H380.40" stroke="#505050" stroke-width="1.4"/>
<path d="M380.40,276.30 V280.30" stroke="#505050" stroke-width="1.4"/>
<path d="M423.60,276.30 V280.30" stroke="#505050" stroke-width="1.4"/>
<path d="M466.80,276.30 V280.30" stroke="#505050" stroke-width="1.4"/>
<path d="M510.00,276.30 V280.30" stroke="#505050" stroke-width="1.4"/>
<path d="M553.20,276.30 V280.30" stroke="#505050" stroke-width="1.4"/>
<path d="M596.40,276.30 V280.30" stroke="#505050" stroke-width="1.4"/>
<rect x="419.28" y="207.25" width="8.64" height="69.05" fill="#00ff00"/><path d="M419.28,215.02L427.05,207.25M419.28,228.42L427.92,219.78M419.28,241.82L427.92,233.18M419.28,255.22L427.92,246.58M419.28,268.62L427.92,259.98M425.00,276.30L427.92,273.38" stroke="#c84420" stroke-width="1.25" fill="none"/><rect x="419.28" y="207.25" width="8.64" height="69.05" fill="none" stroke="#ff5040" stroke-width="0.9"/>
<rect x="462.48" y="83.49" width="8.64" height="192.81" fill="#00ff00"/><path d="M462.48,91.42L470.41,83.49M462.48,104.82L471.12,96.18M462.48,118.22L471.12,109.58M462.48,131.62L471.12,122.98M462.48,145.02L471.12,136.38M462.48,158.42L471.12,149.78M462.48,171.82L471.12,163.18M462.48,185.22L471.12,176.58M462.48,198.62L471.12,189.98M462.48,212.02L471.12,203.38M462.48,225.42L471.12,216.78M462.48,238.82L471.12,230.18M462.48,252.22L471.12,243.58M462.48,265.62L471.12,256.98M465.20,276.30L471.12,270.38" stroke="#c84420" stroke-width="1.25" fill="none"/><rect x="462.48" y="83.49" width="8.64" height="192.81" fill="none" stroke="#ff5040" stroke-width="0.9"/>
<rect x="505.68" y="268.18" width="8.64" height="8.12" fill="#00ff00"/><path d="M505.68,276.02L513.52,268.18" stroke="#c84420" stroke-width="1.25" fill="none"/><rect x="505.68" y="268.18" width="8.64" height="8.12" fill="none" stroke="#ff5040" stroke-width="0.9"/>
<rect x="471.12" y="190.46" width="8.64" height="85.84" fill="#ffff00"/><path d="M471.12,203.38L479.76,194.74M471.12,216.78L479.76,208.14M471.12,230.18L479.76,221.54M471.12,243.58L479.76,234.94M471.12,256.98L479.76,248.34M471.12,270.38L479.76,261.74M478.60,276.30L479.76,275.14" stroke="#40e020" stroke-width="1.25" fill="none"/><rect x="471.12" y="190.46" width="8.64" height="85.84" fill="none" stroke="#70f050" stroke-width="0.9"/>
<rect x="514.32" y="94.86" width="8.64" height="181.44" fill="#ffff00"/><path d="M514.32,106.58L522.96,97.94M514.32,119.98L522.96,111.34M514.32,133.38L522.96,124.74M514.32,146.78L522.96,138.14M514.32,160.18L522.96,151.54M514.32,173.58L522.96,164.94M514.32,186.98L522.96,178.34M514.32,200.38L522.96,191.74M514.32,213.78L522.96,205.14M514.32,227.18L522.96,218.54M514.32,240.58L522.96,231.94M514.32,253.98L522.96,245.34M514.32,267.38L522.96,258.74M518.80,276.30L522.96,272.14" stroke="#40e020" stroke-width="1.25" fill="none"/><rect x="514.32" y="94.86" width="8.64" height="181.44" fill="none" stroke="#70f050" stroke-width="0.9"/>
<rect x="557.52" y="273.59" width="8.64" height="2.71" fill="#ffff00"/><path d="M559.00,276.30L561.71,273.59" stroke="#40e020" stroke-width="1.25" fill="none"/><rect x="557.52" y="273.59" width="8.64" height="2.71" fill="none" stroke="#70f050" stroke-width="0.9"/>
<rect x="436.56" y="270.88" width="8.64" height="5.42" fill="#0000ff"/><path d="M438.40,276.30L443.82,270.88" stroke="#e0e050" stroke-width="1.25" fill="none"/><rect x="436.56" y="270.88" width="8.64" height="5.42" fill="none" stroke="#e0e030" stroke-width="0.9"/>
<rect x="479.76" y="56.68" width="8.64" height="219.62" fill="#0000ff"/><path d="M479.76,60.74L483.82,56.68M479.76,74.14L488.40,65.50M479.76,87.54L488.40,78.90M479.76,100.94L488.40,92.30M479.76,114.34L488.40,105.70M479.76,127.74L488.40,119.10M479.76,141.14L488.40,132.50M479.76,154.54L488.40,145.90M479.76,167.94L488.40,159.30M479.76,181.34L488.40,172.70M479.76,194.74L488.40,186.10M479.76,208.14L488.40,199.50M479.76,221.54L488.40,212.90M479.76,234.94L488.40,226.30M479.76,248.34L488.40,239.70M479.76,261.74L488.40,253.10M479.76,275.14L488.40,266.50" stroke="#e0e050" stroke-width="1.25" fill="none"/><rect x="479.76" y="56.68" width="8.64" height="219.62" fill="none" stroke="#e0e030" stroke-width="0.9"/>
<rect x="522.96" y="232.97" width="8.64" height="43.33" fill="#0000ff"/><path d="M522.96,245.34L531.60,236.70M522.96,258.74L531.60,250.10M522.96,272.14L531.60,263.50" stroke="#e0e050" stroke-width="1.25" fill="none"/><rect x="522.96" y="232.97" width="8.64" height="43.33" fill="none" stroke="#e0e030" stroke-width="0.9"/>
<rect x="402.00" y="254.64" width="8.64" height="21.66" fill="#000000"/>
<rect x="445.20" y="38.27" width="8.64" height="238.03" fill="#000000"/>
<rect x="488.40" y="266.55" width="8.64" height="9.75" fill="#000000"/>
<rect x="410.64" y="239.74" width="8.64" height="36.56" fill="#ff0000"/><path d="M410.64,250.46L419.28,241.82M410.64,263.86L419.28,255.22M411.60,276.30L419.28,268.62" stroke="#ffc8c8" stroke-width="1.25" fill="none"/><rect x="410.64" y="239.74" width="8.64" height="36.56" fill="none" stroke="#ff0000" stroke-width="0.9"/>
<rect x="453.84" y="67.51" width="8.64" height="208.79" fill="#ff0000"/><path d="M453.84,73.26L459.59,67.51M453.84,86.66L462.48,78.02M453.84,100.06L462.48,91.42M453.84,113.46L462.48,104.82M453.84,126.86L462.48,118.22M453.84,140.26L462.48,131.62M453.84,153.66L462.48,145.02M453.84,167.06L462.48,158.42M453.84,180.46L462.48,171.82M453.84,193.86L462.48,185.22M453.84,207.26L462.48,198.62M453.84,220.66L462.48,212.02M453.84,234.06L462.48,225.42M453.84,247.46L462.48,238.82M453.84,260.86L462.48,252.22M453.84,274.26L462.48,265.62" stroke="#ffc8c8" stroke-width="1.25" fill="none"/><rect x="453.84" y="67.51" width="8.64" height="208.79" fill="none" stroke="#ff0000" stroke-width="0.9"/>
<rect x="497.04" y="253.82" width="8.64" height="22.48" fill="#ff0000"/><path d="M497.04,257.86L501.08,253.82M497.04,271.26L505.68,262.62M505.40,276.30L505.68,276.02" stroke="#ffc8c8" stroke-width="1.25" fill="none"/><rect x="497.04" y="253.82" width="8.64" height="22.48" fill="none" stroke="#ff0000" stroke-width="0.9"/>
<polyline points="380.40,276.29 380.94,276.29 381.48,276.29 382.02,276.28 382.56,276.28 383.10,276.28 383.64,276.28 384.18,276.27 384.72,276.27 385.26,276.27 385.80,276.26 386.34,276.26 386.88,276.25 387.42,276.25 387.96,276.24 388.50,276.23 389.04,276.22 389.58,276.22 390.12,276.21 390.66,276.19 391.20,276.18 391.74,276.17 392.28,276.15 392.82,276.13 393.36,276.11 393.90,276.09 394.44,276.07 394.98,276.04 395.52,276.01 396.06,275.98 396.60,275.95 397.14,275.91 397.68,275.87 398.22,275.82 398.76,275.77 399.30,275.71 399.84,275.65 400.38,275.58 400.92,275.51 401.46,275.43 402.00,275.34 402.54,275.24 403.08,275.13 403.62,275.02 404.16,274.89 404.70,274.76 405.24,274.61 405.78,274.45 406.32,274.28 406.86,274.09 407.40,273.88 407.94,273.66 408.48,273.42 409.02,273.17 409.56,272.89 410.10,272.59 410.64,272.27 411.18,271.92 411.72,271.55 412.26,271.15 412.80,270.72 413.34,270.26 413.88,269.77 414.42,269.25 414.96,268.69 415.50,268.09 416.04,267.45 416.58,266.77 417.12,266.05 417.66,265.28 418.20,264.46 418.74,263.60 419.28,262.68 419.82,261.71 420.36,260.68 420.90,259.59 421.44,258.44 421.98,257.23 422.52,255.96 423.06,254.61 423.60,253.20 424.14,251.71 424.68,250.16 425.22,248.52 425.76,246.81 426.30,245.02 426.84,243.15 427.38,241.20 427.92,239.16 428.46,237.04 429.00,234.83 429.54,232.53 430.08,230.15 430.62,227.68 431.16,225.11 431.70,222.46 432.24,219.71 432.78,216.88 433.32,213.95 433.86,210.94 434.40,207.84 434.94,204.65 435.48,201.37 436.02,198.02 436.56,194.57 437.10,191.05 437.64,187.45 438.18,183.78 438.72,180.04 439.26,176.23 439.80,172.35 440.34,168.42 440.88,164.43 441.42,160.39 441.96,156.30 442.50,152.17 443.04,148.01 443.58,143.82 444.12,139.61 444.66,135.38 445.20,131.15 445.74,126.91 446.28,122.67 446.82,118.45 447.36,114.25 447.90,110.08 448.44,105.94 448.98,101.84 449.52,97.79 450.06,93.81 450.60,89.89 451.14,86.04 451.68,82.28 452.22,78.61 452.76,75.04 453.30,71.58 453.84,68.23 454.38,65.00 454.92,61.91 455.46,58.95 456.00,56.13 456.54,53.46 457.08,50.95 457.62,48.60 458.16,46.42 458.70,44.42 459.24,42.59 459.78,40.94 460.32,39.49 460.86,38.22 461.40,37.14 461.94,36.26 462.48,35.58 463.02,35.10 463.56,34.82 464.10,34.75 464.64,34.87 465.18,35.20 465.72,35.73 466.26,36.46 466.80,37.38 467.34,38.50 467.88,39.82 468.42,41.32 468.96,43.01 469.50,44.88 470.04,46.93 470.58,49.15 471.12,51.54 471.66,54.09 472.20,56.79 472.74,59.64 473.28,62.64 473.82,65.77 474.36,69.02 474.90,72.40 475.44,75.89 475.98,79.49 476.52,83.18 477.06,86.96 477.60,90.82 478.14,94.76 478.68,98.76 479.22,102.82 479.76,106.93 480.30,111.07 480.84,115.26 481.38,119.46 481.92,123.69 482.46,127.93 483.00,132.16 483.54,136.40 484.08,140.62 484.62,144.83 485.16,149.01 485.70,153.17 486.24,157.28 486.78,161.36 487.32,165.39 487.86,169.37 488.40,173.29 488.94,177.15 489.48,180.94 490.02,184.67 490.56,188.33 491.10,191.91 491.64,195.41 492.18,198.83 492.72,202.17 493.26,205.42 493.80,208.59 494.34,211.67 494.88,214.66 495.42,217.57 495.96,220.38 496.50,223.10 497.04,225.73 497.58,228.28 498.12,230.73 498.66,233.09 499.20,235.37 499.74,237.56 500.28,239.66 500.82,241.68 501.36,243.61 501.90,245.46 502.44,247.23 502.98,248.92 503.52,250.54 504.06,252.08 504.60,253.54 505.14,254.94 505.68,256.27 506.22,257.53 506.76,258.72 507.30,259.86 507.84,260.93 508.38,261.95 508.92,262.91 509.46,263.81 510.00,264.67 510.54,265.47 511.08,266.23 511.62,266.94 512.16,267.61 512.70,268.24 513.24,268.83 513.78,269.38 514.32,269.90 514.86,270.38 515.40,270.83 515.94,271.25 516.48,271.64 517.02,272.01 517.56,272.35 518.10,272.66 518.64,272.96 519.18,273.23 519.72,273.48 520.26,273.72 520.80,273.93 521.34,274.13 521.88,274.32 522.42,274.49 522.96,274.65 523.50,274.79 524.04,274.93 524.58,275.05 525.12,275.16 525.66,275.26 526.20,275.36 526.74,275.45 527.28,275.53 527.82,275.60 528.36,275.66 528.90,275.72 529.44,275.78 529.98,275.83 530.52,275.88 531.06,275.92 531.60,275.96 532.14,275.99 532.68,276.02 533.22,276.05 533.76,276.08 534.30,276.10 534.84,276.12 535.38,276.14 535.92,276.16 536.46,276.17 537.00,276.18 537.54,276.20 538.08,276.21 538.62,276.22 539.16,276.23 539.70,276.23 540.24,276.24 540.78,276.25 541.32,276.25 541.86,276.26 542.40,276.26 542.94,276.27 543.48,276.27 544.02,276.28 544.56,276.28 545.10,276.28 545.64,276.28 546.18,276.29 546.72,276.29 547.26,276.29 547.80,276.29 548.34,276.29 548.88,276.29 549.42,276.29 549.96,276.29 550.50,276.29 551.04,276.30 551.58,276.30 552.12,276.30 552.66,276.30 553.20,276.30 553.74,276.30 554.28,276.30 554.82,276.30 555.36,276.30 555.90,276.30 556.44,276.30 556.98,276.30 557.52,276.30 558.06,276.30 558.60,276.30 559.14,276.30 559.68,276.30 560.22,276.30 560.76,276.30 561.30,276.30 561.84,276.30 562.38,276.30 562.92,276.30 563.46,276.30 564.00,276.30 564.54,276.30 565.08,276.30 565.62,276.30 566.16,276.30 566.70,276.30 567.24,276.30 567.78,276.30 568.32,276.30 568.86,276.30 569.40,276.30 569.94,276.30 570.48,276.30 571.02,276.30 571.56,276.30 572.10,276.30 572.64,276.30 573.18,276.30 573.72,276.30 574.26,276.30 574.80,276.30 575.34,276.30 575.88,276.30 576.42,276.30 576.96,276.30 577.50,276.30 578.04,276.30 578.58,276.30 579.12,276.30 579.66,276.30 580.20,276.30 580.74,276.30 581.28,276.30 581.82,276.30 582.36,276.30 582.90,276.30 583.44,276.30 583.98,276.30 584.52,276.30 585.06,276.30 585.60,276.30 586.14,276.30 586.68,276.30 587.22,276.30 587.76,276.30 588.30,276.30 588.84,276.30 589.38,276.30 589.92,276.30 590.46,276.30 591.00,276.30 591.54,276.30 592.08,276.30 592.62,276.30 593.16,276.30 593.70,276.30 594.24,276.30 594.78,276.30 595.32,276.30 595.86,276.30 596.40,276.30" fill="none" stroke="#000000" stroke-width="2.0" stroke-linejoin="round"/>
<polyline points="380.40,276.13 380.94,276.12 381.48,276.10 382.02,276.08 382.56,276.06 383.10,276.04 383.64,276.02 384.18,275.99 384.72,275.96 385.26,275.93 385.80,275.90 386.34,275.86 386.88,275.82 387.42,275.78 387.96,275.73 388.50,275.68 389.04,275.63 389.58,275.57 390.12,275.51 390.66,275.44 391.20,275.37 391.74,275.29 392.28,275.21 392.82,275.12 393.36,275.03 393.90,274.92 394.44,274.81 394.98,274.69 395.52,274.57 396.06,274.43 396.60,274.29 397.14,274.13 397.68,273.97 398.22,273.79 398.76,273.60 399.30,273.40 399.84,273.19 400.38,272.96 400.92,272.72 401.46,272.46 402.00,272.18 402.54,271.89 403.08,271.59 403.62,271.26 404.16,270.91 404.70,270.55 405.24,270.16 405.78,269.75 406.32,269.32 406.86,268.86 407.40,268.38 407.94,267.87 408.48,267.33 409.02,266.77 409.56,266.17 410.10,265.55 410.64,264.89 411.18,264.20 411.72,263.48 412.26,262.72 412.80,261.92 413.34,261.09 413.88,260.22 414.42,259.31 414.96,258.36 415.50,257.37 416.04,256.33 416.58,255.25 417.12,254.12 417.66,252.95 418.20,251.73 418.74,250.46 419.28,249.15 419.82,247.78 420.36,246.36 420.90,244.89 421.44,243.37 421.98,241.79 422.52,240.16 423.06,238.48 423.60,236.74 424.14,234.94 424.68,233.09 425.22,231.19 425.76,229.23 426.30,227.21 426.84,225.13 427.38,223.00 427.92,220.82 428.46,218.58 429.00,216.28 429.54,213.93 430.08,211.53 430.62,209.07 431.16,206.57 431.70,204.01 432.24,201.40 432.78,198.75 433.32,196.05 433.86,193.30 434.40,190.51 434.94,187.69 435.48,184.82 436.02,181.91 436.56,178.97 437.10,176.00 437.64,173.01 438.18,169.98 438.72,166.93 439.26,163.86 439.80,160.77 440.34,157.67 440.88,154.56 441.42,151.44 441.96,148.32 442.50,145.20 443.04,142.08 443.58,138.97 444.12,135.87 444.66,132.79 445.20,129.72 445.74,126.68 446.28,123.67 446.82,120.69 447.36,117.74 447.90,114.84 448.44,111.98 448.98,109.17 449.52,106.41 450.06,103.72 450.60,101.08 451.14,98.51 451.68,96.00 452.22,93.57 452.76,91.22 453.30,88.95 453.84,86.77 454.38,84.67 454.92,82.67 455.46,80.76 456.00,78.95 456.54,77.24 457.08,75.64 457.62,74.15 458.16,72.76 458.70,71.49 459.24,70.33 459.78,69.29 460.32,68.37 460.86,67.57 461.40,66.89 461.94,66.33 462.48,65.90 463.02,65.59 463.56,65.40 464.10,65.35 464.64,65.41 465.18,65.61 465.72,65.93 466.26,66.37 466.80,66.94 467.34,67.63 467.88,68.44 468.42,69.37 468.96,70.42 469.50,71.59 470.04,72.87 470.58,74.26 471.12,75.77 471.66,77.38 472.20,79.09 472.74,80.91 473.28,82.83 473.82,84.84 474.36,86.94 474.90,89.13 475.44,91.41 475.98,93.77 476.52,96.20 477.06,98.71 477.60,101.29 478.14,103.93 478.68,106.63 479.22,109.39 479.76,112.21 480.30,115.07 480.84,117.98 481.38,120.92 481.92,123.91 482.46,126.92 483.00,129.97 483.54,133.03 484.08,136.12 484.62,139.22 485.16,142.33 485.70,145.45 486.24,148.57 486.78,151.69 487.32,154.81 487.86,157.92 488.40,161.02 488.94,164.11 489.48,167.18 490.02,170.22 490.56,173.25 491.10,176.24 491.64,179.21 492.18,182.15 492.72,185.05 493.26,187.91 493.80,190.74 494.34,193.52 494.88,196.27 495.42,198.96 495.96,201.61 496.50,204.22 497.04,206.77 497.58,209.27 498.12,211.72 498.66,214.12 499.20,216.47 499.74,218.76 500.28,221.00 500.82,223.18 501.36,225.30 501.90,227.37 502.44,229.39 502.98,231.34 503.52,233.24 504.06,235.09 504.60,236.88 505.14,238.62 505.68,240.30 506.22,241.92 506.76,243.49 507.30,245.01 507.84,246.48 508.38,247.89 508.92,249.25 509.46,250.57 510.00,251.83 510.54,253.05 511.08,254.22 511.62,255.34 512.16,256.41 512.70,257.45 513.24,258.44 513.78,259.39 514.32,260.29 514.86,261.16 515.40,261.99 515.94,262.78 516.48,263.54 517.02,264.26 517.56,264.94 518.10,265.60 518.64,266.22 519.18,266.81 519.72,267.37 520.26,267.91 520.80,268.41 521.34,268.90 521.88,269.35 522.42,269.78 522.96,270.19 523.50,270.58 524.04,270.94 524.58,271.29 525.12,271.61 525.66,271.92 526.20,272.21 526.74,272.48 527.28,272.74 527.82,272.98 528.36,273.20 528.90,273.42 529.44,273.62 529.98,273.80 530.52,273.98 531.06,274.14 531.60,274.30 532.14,274.44 532.68,274.58 533.22,274.70 533.76,274.82 534.30,274.93 534.84,275.03 535.38,275.13 535.92,275.22 536.46,275.30 537.00,275.38 537.54,275.45 538.08,275.52 538.62,275.58 539.16,275.63 539.70,275.69 540.24,275.74 540.78,275.78 541.32,275.82 541.86,275.86 542.40,275.90 542.94,275.93 543.48,275.96 544.02,275.99 544.56,276.02 545.10,276.04 545.64,276.06 546.18,276.08 546.72,276.10 547.26,276.12 547.80,276.14 548.34,276.15 548.88,276.16 549.42,276.18 549.96,276.19 550.50,276.20 551.04,276.21 551.58,276.22 552.12,276.22 552.66,276.23 553.20,276.24 553.74,276.24 554.28,276.25 554.82,276.25 555.36,276.26 555.90,276.26 556.44,276.27 556.98,276.27 557.52,276.27 558.06,276.27 558.60,276.28 559.14,276.28 559.68,276.28 560.22,276.28 560.76,276.28 561.30,276.29 561.84,276.29 562.38,276.29 562.92,276.29 563.46,276.29 564.00,276.29 564.54,276.29 565.08,276.29 565.62,276.29 566.16,276.29 566.70,276.30 567.24,276.30 567.78,276.30 568.32,276.30 568.86,276.30 569.40,276.30 569.94,276.30 570.48,276.30 571.02,276.30 571.56,276.30 572.10,276.30 572.64,276.30 573.18,276.30 573.72,276.30 574.26,276.30 574.80,276.30 575.34,276.30 575.88,276.30 576.42,276.30 576.96,276.30 577.50,276.30 578.04,276.30 578.58,276.30 579.12,276.30 579.66,276.30 580.20,276.30 580.74,276.30 581.28,276.30 581.82,276.30 582.36,276.30 582.90,276.30 583.44,276.30 583.98,276.30 584.52,276.30 585.06,276.30 585.60,276.30 586.14,276.30 586.68,276.30 587.22,276.30 587.76,276.30 588.30,276.30 588.84,276.30 589.38,276.30 589.92,276.30 590.46,276.30 591.00,276.30 591.54,276.30 592.08,276.30 592.62,276.30 593.16,276.30 593.70,276.30 594.24,276.30 594.78,276.30 595.32,276.30 595.86,276.30 596.40,276.30" fill="none" stroke="#ff0000" stroke-width="1.6" stroke-linejoin="round"/>
<polyline points="380.40,275.92 380.94,275.88 381.48,275.84 382.02,275.80 382.56,275.75 383.10,275.70 383.64,275.64 384.18,275.58 384.72,275.52 385.26,275.45 385.80,275.38 386.34,275.29 386.88,275.21 387.42,275.11 387.96,275.01 388.50,274.90 389.04,274.78 389.58,274.65 390.12,274.52 390.66,274.37 391.20,274.21 391.74,274.05 392.28,273.86 392.82,273.67 393.36,273.46 393.90,273.24 394.44,273.01 394.98,272.75 395.52,272.49 396.06,272.20 396.60,271.89 397.14,271.57 397.68,271.22 398.22,270.85 398.76,270.46 399.30,270.05 399.84,269.61 400.38,269.14 400.92,268.65 401.46,268.13 402.00,267.58 402.54,266.99 403.08,266.38 403.62,265.73 404.16,265.04 404.70,264.32 405.24,263.57 405.78,262.77 406.32,261.93 406.86,261.05 407.40,260.13 407.94,259.16 408.48,258.14 409.02,257.08 409.56,255.97 410.10,254.81 410.64,253.60 411.18,252.33 411.72,251.02 412.26,249.64 412.80,248.21 413.34,246.72 413.88,245.18 414.42,243.57 414.96,241.91 415.50,240.18 416.04,238.39 416.58,236.54 417.12,234.63 417.66,232.65 418.20,230.60 418.74,228.50 419.28,226.33 419.82,224.09 420.36,221.79 420.90,219.43 421.44,217.00 421.98,214.51 422.52,211.96 423.06,209.34 423.60,206.67 424.14,203.93 424.68,201.14 425.22,198.29 425.76,195.38 426.30,192.42 426.84,189.41 427.38,186.35 427.92,183.25 428.46,180.10 429.00,176.90 429.54,173.67 430.08,170.41 430.62,167.11 431.16,163.78 431.70,160.42 432.24,157.05 432.78,153.65 433.32,150.24 433.86,146.82 434.40,143.40 434.94,139.97 435.48,136.55 436.02,133.13 436.56,129.73 437.10,126.34 437.64,122.98 438.18,119.64 438.72,116.33 439.26,113.07 439.80,109.84 440.34,106.66 440.88,103.53 441.42,100.46 441.96,97.46 442.50,94.52 443.04,91.65 443.58,88.86 444.12,86.15 444.66,83.53 445.20,81.00 445.74,78.57 446.28,76.24 446.82,74.01 447.36,71.89 447.90,69.89 448.44,68.00 448.98,66.23 449.52,64.58 450.06,63.06 450.60,61.67 451.14,60.41 451.68,59.29 452.22,58.30 452.76,57.45 453.30,56.75 453.84,56.18 454.38,55.76 454.92,55.48 455.46,55.34 456.00,55.35 456.54,55.50 457.08,55.80 457.62,56.24 458.16,56.82 458.70,57.55 459.24,58.41 459.78,59.42 460.32,60.56 460.86,61.83 461.40,63.24 461.94,64.77 462.48,66.43 463.02,68.22 463.56,70.12 464.10,72.14 464.64,74.27 465.18,76.51 465.72,78.86 466.26,81.30 466.80,83.84 467.34,86.47 467.88,89.19 468.42,91.99 468.96,94.87 469.50,97.82 470.04,100.83 470.58,103.91 471.12,107.04 471.66,110.23 472.20,113.46 472.74,116.73 473.28,120.04 473.82,123.38 474.36,126.75 474.90,130.14 475.44,133.54 475.98,136.96 476.52,140.38 477.06,143.81 477.60,147.23 478.14,150.65 478.68,154.06 479.22,157.45 479.76,160.83 480.30,164.18 480.84,167.50 481.38,170.80 481.92,174.06 482.46,177.29 483.00,180.48 483.54,183.62 484.08,186.72 484.62,189.78 485.16,192.78 485.70,195.73 486.24,198.63 486.78,201.48 487.32,204.26 487.86,206.99 488.40,209.66 488.94,212.27 489.48,214.81 490.02,217.30 490.56,219.72 491.10,222.07 491.64,224.36 492.18,226.59 492.72,228.75 493.26,230.85 493.80,232.89 494.34,234.86 494.88,236.77 495.42,238.61 495.96,240.39 496.50,242.11 497.04,243.77 497.58,245.37 498.12,246.91 498.66,248.39 499.20,249.81 499.74,251.18 500.28,252.49 500.82,253.75 501.36,254.95 501.90,256.11 502.44,257.21 502.98,258.27 503.52,259.28 504.06,260.24 504.60,261.16 505.14,262.03 505.68,262.87 506.22,263.66 506.76,264.41 507.30,265.13 507.84,265.81 508.38,266.45 508.92,267.07 509.46,267.64 510.00,268.19 510.54,268.71 511.08,269.20 511.62,269.66 512.16,270.10 512.70,270.51 513.24,270.90 513.78,271.26 514.32,271.61 514.86,271.93 515.40,272.23 515.94,272.52 516.48,272.79 517.02,273.04 517.56,273.27 518.10,273.49 518.64,273.70 519.18,273.89 519.72,274.07 520.26,274.23 520.80,274.39 521.34,274.53 521.88,274.67 522.42,274.80 522.96,274.91 523.50,275.02 524.04,275.12 524.58,275.22 525.12,275.30 525.66,275.38 526.20,275.46 526.74,275.53 527.28,275.59 527.82,275.65 528.36,275.71 528.90,275.76 529.44,275.80 529.98,275.84 530.52,275.88 531.06,275.92 531.60,275.95 532.14,275.98 532.68,276.01 533.22,276.04 533.76,276.06 534.30,276.08 534.84,276.10 535.38,276.12 535.92,276.14 536.46,276.15 537.00,276.17 537.54,276.18 538.08,276.19 538.62,276.20 539.16,276.21 539.70,276.22 540.24,276.23 540.78,276.23 541.32,276.24 541.86,276.25 542.40,276.25 542.94,276.26 543.48,276.26 544.02,276.26 544.56,276.27 545.10,276.27 545.64,276.27 546.18,276.28 546.72,276.28 547.26,276.28 547.80,276.28 548.34,276.29 548.88,276.29 549.42,276.29 549.96,276.29 550.50,276.29 551.04,276.29 551.58,276.29 552.12,276.29 552.66,276.29 553.20,276.29 553.74,276.30 554.28,276.30 554.82,276.30 555.36,276.30 555.90,276.30 556.44,276.30 556.98,276.30 557.52,276.30 558.06,276.30 558.60,276.30 559.14,276.30 559.68,276.30 560.22,276.30 560.76,276.30 561.30,276.30 561.84,276.30 562.38,276.30 562.92,276.30 563.46,276.30 564.00,276.30 564.54,276.30 565.08,276.30 565.62,276.30 566.16,276.30 566.70,276.30 567.24,276.30 567.78,276.30 568.32,276.30 568.86,276.30 569.40,276.30 569.94,276.30 570.48,276.30 571.02,276.30 571.56,276.30 572.10,276.30 572.64,276.30 573.18,276.30 573.72,276.30 574.26,276.30 574.80,276.30 575.34,276.30 575.88,276.30 576.42,276.30 576.96,276.30 577.50,276.30 578.04,276.30 578.58,276.30 579.12,276.30 579.66,276.30 580.20,276.30 580.74,276.30 581.28,276.30 581.82,276.30 582.36,276.30 582.90,276.30 583.44,276.30 583.98,276.30 584.52,276.30 585.06,276.30 585.60,276.30 586.14,276.30 586.68,276.30 587.22,276.30 587.76,276.30 588.30,276.30 588.84,276.30 589.38,276.30 589.92,276.30 590.46,276.30 591.00,276.30 591.54,276.30 592.08,276.30 592.62,276.30 593.16,276.30 593.70,276.30 594.24,276.30 594.78,276.30 595.32,276.30 595.86,276.30 596.40,276.30" fill="none" stroke="#00ff00" stroke-width="2.0" stroke-linejoin="round"/>
<polyline points="380.40,276.30 380.94,276.30 381.48,276.30 382.02,276.30 382.56,276.30 383.10,276.30 383.64,276.30 384.18,276.30 384.72,276.30 385.26,276.30 385.80,276.30 386.34,276.30 386.88,276.30 387.42,276.30 387.96,276.30 388.50,276.30 389.04,276.30 389.58,276.30 390.12,276.30 390.66,276.30 391.20,276.30 391.74,276.30 392.28,276.30 392.82,276.30 393.36,276.30 393.90,276.30 394.44,276.30 394.98,276.30 395.52,276.30 396.06,276.30 396.60,276.30 397.14,276.30 397.68,276.30 398.22,276.30 398.76,276.30 399.30,276.30 399.84,276.30 400.38,276.30 400.92,276.30 401.46,276.30 402.00,276.30 402.54,276.30 403.08,276.30 403.62,276.30 404.16,276.30 404.70,276.30 405.24,276.30 405.78,276.29 406.32,276.29 406.86,276.29 407.40,276.29 407.94,276.29 408.48,276.29 409.02,276.29 409.56,276.29 410.10,276.29 410.64,276.28 411.18,276.28 411.72,276.28 412.26,276.28 412.80,276.27 413.34,276.27 413.88,276.27 414.42,276.26 414.96,276.26 415.50,276.25 416.04,276.25 416.58,276.24 417.12,276.23 417.66,276.22 418.20,276.21 418.74,276.20 419.28,276.19 419.82,276.18 420.36,276.17 420.90,276.15 421.44,276.13 421.98,276.12 422.52,276.09 423.06,276.07 423.60,276.05 424.14,276.02 424.68,275.99 425.22,275.95 425.76,275.92 426.30,275.88 426.84,275.83 427.38,275.78 427.92,275.73 428.46,275.67 429.00,275.61 429.54,275.54 430.08,275.46 430.62,275.38 431.16,275.29 431.70,275.19 432.24,275.09 432.78,274.97 433.32,274.85 433.86,274.71 434.40,274.56 434.94,274.40 435.48,274.23 436.02,274.04 436.56,273.84 437.10,273.62 437.64,273.39 438.18,273.14 438.72,272.87 439.26,272.57 439.80,272.26 440.34,271.92 440.88,271.56 441.42,271.17 441.96,270.76 442.50,270.32 443.04,269.85 443.58,269.34 444.12,268.80 444.66,268.23 445.20,267.62 445.74,266.97 446.28,266.28 446.82,265.54 447.36,264.77 447.90,263.94 448.44,263.07 448.98,262.15 449.52,261.17 450.06,260.14 450.60,259.06 451.14,257.91 451.68,256.71 452.22,255.44 452.76,254.11 453.30,252.71 453.84,251.25 454.38,249.71 454.92,248.10 455.46,246.42 456.00,244.66 456.54,242.83 457.08,240.92 457.62,238.93 458.16,236.85 458.70,234.70 459.24,232.46 459.78,230.14 460.32,227.73 460.86,225.24 461.40,222.66 461.94,220.00 462.48,217.25 463.02,214.42 463.56,211.50 464.10,208.49 464.64,205.41 465.18,202.24 465.72,198.99 466.26,195.67 466.80,192.26 467.34,188.78 467.88,185.23 468.42,181.61 468.96,177.93 469.50,174.18 470.04,170.37 470.58,166.51 471.12,162.60 471.66,158.64 472.20,154.64 472.74,150.60 473.28,146.53 473.82,142.43 474.36,138.31 474.90,134.18 475.44,130.05 475.98,125.90 476.52,121.77 477.06,117.65 477.60,113.54 478.14,109.46 478.68,105.41 479.22,101.41 479.76,97.45 480.30,93.54 480.84,89.70 481.38,85.93 481.92,82.23 482.46,78.62 483.00,75.10 483.54,71.68 484.08,68.37 484.62,65.17 485.16,62.09 485.70,59.13 486.24,56.31 486.78,53.63 487.32,51.09 487.86,48.71 488.40,46.48 488.94,44.41 489.48,42.51 490.02,40.78 490.56,39.22 491.10,37.84 491.64,36.64 492.18,35.63 492.72,34.80 493.26,34.16 493.80,33.72 494.34,33.46 494.88,33.39 495.42,33.52 495.96,33.84 496.50,34.35 497.04,35.05 497.58,35.93 498.12,37.01 498.66,38.26 499.20,39.70 499.74,41.31 500.28,43.10 500.82,45.05 501.36,47.17 501.90,49.45 502.44,51.89 502.98,54.47 503.52,57.20 504.06,60.06 504.60,63.06 505.14,66.18 505.68,69.42 506.22,72.76 506.76,76.22 507.30,79.77 507.84,83.41 508.38,87.13 508.92,90.92 509.46,94.79 510.00,98.71 510.54,102.68 511.08,106.70 511.62,110.76 512.16,114.85 512.70,118.96 513.24,123.09 513.78,127.23 514.32,131.37 514.86,135.51 515.40,139.63 515.94,143.74 516.48,147.83 517.02,151.89 517.56,155.92 518.10,159.91 518.64,163.85 519.18,167.75 519.72,171.60 520.26,175.39 520.80,179.12 521.34,182.78 521.88,186.38 522.42,189.90 522.96,193.36 523.50,196.74 524.04,200.04 524.58,203.26 525.12,206.41 525.66,209.46 526.20,212.44 526.74,215.33 527.28,218.14 527.82,220.86 528.36,223.50 528.90,226.05 529.44,228.51 529.98,230.89 530.52,233.18 531.06,235.40 531.60,237.53 532.14,239.57 532.68,241.54 533.22,243.43 533.76,245.23 534.30,246.97 534.84,248.63 535.38,250.21 535.92,251.72 536.46,253.17 537.00,254.54 537.54,255.86 538.08,257.10 538.62,258.29 539.16,259.41 539.70,260.48 540.24,261.49 540.78,262.45 541.32,263.36 541.86,264.21 542.40,265.02 542.94,265.78 543.48,266.50 544.02,267.18 544.56,267.82 545.10,268.42 545.64,268.98 546.18,269.51 546.72,270.00 547.26,270.46 547.80,270.90 548.34,271.30 548.88,271.68 549.42,272.03 549.96,272.36 550.50,272.67 551.04,272.95 551.58,273.22 552.12,273.47 552.66,273.70 553.20,273.91 553.74,274.10 554.28,274.29 554.82,274.46 555.36,274.61 555.90,274.75 556.44,274.89 556.98,275.01 557.52,275.12 558.06,275.23 558.60,275.32 559.14,275.41 559.68,275.49 560.22,275.56 560.76,275.63 561.30,275.69 561.84,275.75 562.38,275.80 562.92,275.85 563.46,275.89 564.00,275.93 564.54,275.97 565.08,276.00 565.62,276.03 566.16,276.05 566.70,276.08 567.24,276.10 567.78,276.12 568.32,276.14 568.86,276.16 569.40,276.17 569.94,276.18 570.48,276.20 571.02,276.21 571.56,276.22 572.10,276.23 572.64,276.23 573.18,276.24 573.72,276.25 574.26,276.25 574.80,276.26 575.34,276.26 575.88,276.27 576.42,276.27 576.96,276.27 577.50,276.28 578.04,276.28 578.58,276.28 579.12,276.28 579.66,276.29 580.20,276.29 580.74,276.29 581.28,276.29 581.82,276.29 582.36,276.29 582.90,276.29 583.44,276.29 583.98,276.29 584.52,276.30 585.06,276.30 585.60,276.30 586.14,276.30 586.68,276.30 587.22,276.30 587.76,276.30 588.30,276.30 588.84,276.30 589.38,276.30 589.92,276.30 590.46,276.30 591.00,276.30 591.54,276.30 592.08,276.30 592.62,276.30 593.16,276.30 593.70,276.30 594.24,276.30 594.78,276.30 595.32,276.30 595.86,276.30 596.40,276.30" fill="none" stroke="#ffff00" stroke-width="2.2" stroke-linejoin="round"/>
<polyline points="380.40,276.30 380.94,276.30 381.48,276.30 382.02,276.30 382.56,276.30 383.10,276.30 383.64,276.30 384.18,276.30 384.72,276.30 385.26,276.30 385.80,276.30 386.34,276.30 386.88,276.30 387.42,276.30 387.96,276.29 388.50,276.29 389.04,276.29 389.58,276.29 390.12,276.29 390.66,276.29 391.20,276.29 391.74,276.29 392.28,276.28 392.82,276.28 393.36,276.28 393.90,276.28 394.44,276.27 394.98,276.27 395.52,276.27 396.06,276.26 396.60,276.26 397.14,276.25 397.68,276.25 398.22,276.24 398.76,276.23 399.30,276.23 399.84,276.22 400.38,276.21 400.92,276.20 401.46,276.18 402.00,276.17 402.54,276.15 403.08,276.14 403.62,276.12 404.16,276.10 404.70,276.07 405.24,276.05 405.78,276.02 406.32,275.99 406.86,275.96 407.40,275.92 407.94,275.88 408.48,275.83 409.02,275.78 409.56,275.73 410.10,275.67 410.64,275.60 411.18,275.53 411.72,275.45 412.26,275.37 412.80,275.28 413.34,275.17 413.88,275.06 414.42,274.94 414.96,274.81 415.50,274.67 416.04,274.52 416.58,274.35 417.12,274.17 417.66,273.98 418.20,273.77 418.74,273.54 419.28,273.29 419.82,273.03 420.36,272.74 420.90,272.44 421.44,272.11 421.98,271.75 422.52,271.37 423.06,270.97 423.60,270.53 424.14,270.06 424.68,269.56 425.22,269.03 425.76,268.46 426.30,267.86 426.84,267.21 427.38,266.52 427.92,265.79 428.46,265.01 429.00,264.19 429.54,263.32 430.08,262.39 430.62,261.41 431.16,260.38 431.70,259.29 432.24,258.14 432.78,256.92 433.32,255.64 433.86,254.30 434.40,252.88 434.94,251.40 435.48,249.84 436.02,248.21 436.56,246.51 437.10,244.72 437.64,242.86 438.18,240.91 438.72,238.88 439.26,236.77 439.80,234.58 440.34,232.29 440.88,229.92 441.42,227.47 441.96,224.92 442.50,222.29 443.04,219.57 443.58,216.75 444.12,213.86 444.66,210.87 445.20,207.80 445.74,204.64 446.28,201.39 446.82,198.07 447.36,194.66 447.90,191.17 448.44,187.61 448.98,183.98 449.52,180.27 450.06,176.50 450.60,172.66 451.14,168.77 451.68,164.82 452.22,160.81 452.76,156.77 453.30,152.68 453.84,148.56 454.38,144.40 454.92,140.23 455.46,136.03 456.00,131.83 456.54,127.62 457.08,123.41 457.62,119.21 458.16,115.03 458.70,110.88 459.24,106.75 459.78,102.67 460.32,98.63 460.86,94.65 461.40,90.72 461.94,86.87 462.48,83.10 463.02,79.42 463.56,75.82 464.10,72.33 464.64,68.95 465.18,65.68 465.72,62.54 466.26,59.53 466.80,56.66 467.34,53.93 467.88,51.35 468.42,48.92 468.96,46.66 469.50,44.56 470.04,42.64 470.58,40.89 471.12,39.33 471.66,37.95 472.20,36.76 472.74,35.75 473.28,34.95 473.82,34.33 474.36,33.92 474.90,33.70 475.44,33.68 475.98,33.86 476.52,34.23 477.06,34.81 477.60,35.58 478.14,36.54 478.68,37.70 479.22,39.04 479.76,40.57 480.30,42.28 480.84,44.17 481.38,46.23 481.92,48.46 482.46,50.85 483.00,53.40 483.54,56.10 484.08,58.94 484.62,61.93 485.16,65.05 485.70,68.29 486.24,71.65 486.78,75.12 487.32,78.69 487.86,82.36 488.40,86.11 488.94,89.95 489.48,93.86 490.02,97.83 490.56,101.86 491.10,105.93 491.64,110.05 492.18,114.20 492.72,118.38 493.26,122.57 493.80,126.78 494.34,130.99 494.88,135.19 495.42,139.39 495.96,143.57 496.50,147.73 497.04,151.86 497.58,155.95 498.12,160.01 498.66,164.02 499.20,167.98 499.74,171.89 500.28,175.74 500.82,179.52 501.36,183.24 501.90,186.89 502.44,190.47 502.98,193.97 503.52,197.39 504.06,200.73 504.60,203.99 505.14,207.17 505.68,210.26 506.22,213.27 506.76,216.18 507.30,219.01 507.84,221.75 508.38,224.40 508.92,226.96 509.46,229.44 510.00,231.83 510.54,234.13 511.08,236.34 511.62,238.47 512.16,240.51 512.70,242.47 513.24,244.36 513.78,246.16 514.32,247.88 514.86,249.52 515.40,251.09 515.94,252.59 516.48,254.02 517.02,255.38 517.56,256.67 518.10,257.90 518.64,259.06 519.18,260.17 519.72,261.21 520.26,262.20 520.80,263.14 521.34,264.02 521.88,264.85 522.42,265.64 522.96,266.38 523.50,267.08 524.04,267.73 524.58,268.34 525.12,268.92 525.66,269.46 526.20,269.97 526.74,270.44 527.28,270.88 527.82,271.29 528.36,271.68 528.90,272.04 529.44,272.37 529.98,272.68 530.52,272.97 531.06,273.24 531.60,273.49 532.14,273.72 532.68,273.94 533.22,274.13 533.76,274.32 534.30,274.49 534.84,274.64 535.38,274.79 535.92,274.92 536.46,275.04 537.00,275.15 537.54,275.26 538.08,275.35 538.62,275.44 539.16,275.52 539.70,275.59 540.24,275.66 540.78,275.72 541.32,275.77 541.86,275.82 542.40,275.87 542.94,275.91 543.48,275.95 544.02,275.98 544.56,276.01 545.10,276.04 545.64,276.07 546.18,276.09 546.72,276.11 547.26,276.13 547.80,276.15 548.34,276.17 548.88,276.18 549.42,276.19 549.96,276.20 550.50,276.21 551.04,276.22 551.58,276.23 552.12,276.24 552.66,276.25 553.20,276.25 553.74,276.26 554.28,276.26 554.82,276.27 555.36,276.27 555.90,276.27 556.44,276.28 556.98,276.28 557.52,276.28 558.06,276.28 558.60,276.29 559.14,276.29 559.68,276.29 560.22,276.29 560.76,276.29 561.30,276.29 561.84,276.29 562.38,276.29 562.92,276.29 563.46,276.30 564.00,276.30 564.54,276.30 565.08,276.30 565.62,276.30 566.16,276.30 566.70,276.30 567.24,276.30 567.78,276.30 568.32,276.30 568.86,276.30 569.40,276.30 569.94,276.30 570.48,276.30 571.02,276.30 571.56,276.30 572.10,276.30 572.64,276.30 573.18,276.30 573.72,276.30 574.26,276.30 574.80,276.30 575.34,276.30 575.88,276.30 576.42,276.30 576.96,276.30 577.50,276.30 578.04,276.30 578.58,276.30 579.12,276.30 579.66,276.30 580.20,276.30 580.74,276.30 581.28,276.30 581.82,276.30 582.36,276.30 582.90,276.30 583.44,276.30 583.98,276.30 584.52,276.30 585.06,276.30 585.60,276.30 586.14,276.30 586.68,276.30 587.22,276.30 587.76,276.30 588.30,276.30 588.84,276.30 589.38,276.30 589.92,276.30 590.46,276.30 591.00,276.30 591.54,276.30 592.08,276.30 592.62,276.30 593.16,276.30 593.70,276.30 594.24,276.30 594.78,276.30 595.32,276.30 595.86,276.30 596.40,276.30" fill="none" stroke="#0000cc" stroke-width="2.0" stroke-linejoin="round"/>
<text x="370.00" y="281.56" text-anchor="end" font-size="14.6" font-weight="bold">0</text>
<text x="370.00" y="227.40" text-anchor="end" font-size="14.6" font-weight="bold">20</text>
<text x="370.00" y="173.24" text-anchor="end" font-size="14.6" font-weight="bold">40</text>
<text x="370.00" y="119.08" text-anchor="end" font-size="14.6" font-weight="bold">60</text>
<text x="370.00" y="64.92" text-anchor="end" font-size="14.6" font-weight="bold">80</text>
<text x="370.00" y="10.76" text-anchor="end" font-size="14.6" font-weight="bold">100</text>
<text x="380.40" y="301.90" text-anchor="middle" font-size="14.6" font-weight="bold">0</text>
<text x="423.60" y="301.90" text-anchor="middle" font-size="14.6" font-weight="bold">1</text>
<text x="466.80" y="301.90" text-anchor="middle" font-size="14.6" font-weight="bold">2</text>
<text x="510.00" y="301.90" text-anchor="middle" font-size="14.6" font-weight="bold">3</text>
<text x="553.20" y="301.90" text-anchor="middle" font-size="14.6" font-weight="bold">4</text>
<text x="596.40" y="301.90" text-anchor="middle" font-size="14.6" font-weight="bold">5</text>
<text x="424.50" y="328.70" font-size="14.6" font-weight="bold" textLength="129.10" lengthAdjust="spacingAndGlyphs">Fruit diameter class</text>
<text transform="translate(342.80,191.60) rotate(-90)" x="0" y="0" font-size="14.6" font-weight="bold" textLength="102.30" lengthAdjust="spacingAndGlyphs">Proportion (%)</text>
<text x="394.80" y="27.30" font-size="14.6" font-weight="bold" textLength="19.70" lengthAdjust="spacingAndGlyphs">(B)</text>
<path d="M49.70,342.30 H594.50 V613.10 M55.20,342.30 V616.60 M49.70,613.10 H594.50" fill="none" stroke="#a8a8a8" stroke-width="1.4"/>
<path d="M49.70,613.10 H55.20" stroke="#a8a8a8" stroke-width="1.4"/>
<path d="M49.70,558.94 H55.20" stroke="#a8a8a8" stroke-width="1.4"/>
<path d="M49.70,504.78 H55.20" stroke="#a8a8a8" stroke-width="1.4"/>
<path d="M49.70,450.62 H55.20" stroke="#a8a8a8" stroke-width="1.4"/>
<path d="M49.70,396.46 H55.20" stroke="#a8a8a8" stroke-width="1.4"/>
<path d="M49.70,342.30 H55.20" stroke="#a8a8a8" stroke-width="1.4"/>
<path d="M55.20,613.10 V616.60" stroke="#a8a8a8" stroke-width="1.4"/>
<path d="M109.13,613.10 V616.60" stroke="#a8a8a8" stroke-width="1.4"/>
<path d="M163.06,613.10 V616.60" stroke="#a8a8a8" stroke-width="1.4"/>
<path d="M216.99,613.10 V616.60" stroke="#a8a8a8" stroke-width="1.4"/>
<path d="M270.92,613.10 V616.60" stroke="#a8a8a8" stroke-width="1.4"/>
<path d="M324.85,613.10 V616.60" stroke="#a8a8a8" stroke-width="1.4"/>
<path d="M378.78,613.10 V616.60" stroke="#a8a8a8" stroke-width="1.4"/>
<path d="M432.71,613.10 V616.60" stroke="#a8a8a8" stroke-width="1.4"/>
<path d="M486.64,613.10 V616.60" stroke="#a8a8a8" stroke-width="1.4"/>
<path d="M540.57,613.10 V616.60" stroke="#a8a8a8" stroke-width="1.4"/>
<path d="M594.50,613.10 V616.60" stroke="#a8a8a8" stroke-width="1.4"/>
<rect x="103.74" y="550.82" width="10.79" height="62.28" fill="#00ff00"/><path d="M103.74,563.76L114.52,552.98M103.74,577.16L114.52,566.38M103.74,590.56L114.52,579.78M103.74,603.96L114.52,593.18M108.00,613.10L114.52,606.58" stroke="#c84420" stroke-width="1.0" fill="none"/><rect x="104.04" y="551.12" width="10.19" height="61.98" fill="none" stroke="#ff5040" stroke-width="0.7" stroke-opacity="0.6"/>
<rect x="157.67" y="366.13" width="10.79" height="246.97" fill="#00ff00"/><path d="M157.67,375.83L167.37,366.13M157.67,389.23L168.45,378.45M157.67,402.63L168.45,391.85M157.67,416.03L168.45,405.25M157.67,429.43L168.45,418.65M157.67,442.83L168.45,432.05M157.67,456.23L168.45,445.45M157.67,469.63L168.45,458.85M157.67,483.03L168.45,472.25M157.67,496.43L168.45,485.65M157.67,509.83L168.45,499.05M157.67,523.23L168.45,512.45M157.67,536.63L168.45,525.85M157.67,550.03L168.45,539.25M157.67,563.43L168.45,552.65M157.67,576.83L168.45,566.05M157.67,590.23L168.45,579.45M157.67,603.63L168.45,592.85M161.60,613.10L168.45,606.25" stroke="#c84420" stroke-width="1.0" fill="none"/><rect x="157.97" y="366.43" width="10.19" height="246.67" fill="none" stroke="#ff5040" stroke-width="0.7" stroke-opacity="0.6"/>
<rect x="211.60" y="458.74" width="10.79" height="154.36" fill="#00ff00"/><path d="M211.60,469.30L222.16,458.74M211.60,482.70L222.38,471.92M211.60,496.10L222.38,485.32M211.60,509.50L222.38,498.72M211.60,522.90L222.38,512.12M211.60,536.30L222.38,525.52M211.60,549.70L222.38,538.92M211.60,563.10L222.38,552.32M211.60,576.50L222.38,565.72M211.60,589.90L222.38,579.12M211.60,603.30L222.38,592.52M215.20,613.10L222.38,605.92" stroke="#c84420" stroke-width="1.0" fill="none"/><rect x="211.90" y="459.04" width="10.19" height="154.06" fill="none" stroke="#ff5040" stroke-width="0.7" stroke-opacity="0.6"/>
<rect x="265.53" y="572.48" width="10.79" height="40.62" fill="#00ff00"/><path d="M265.53,576.17L269.22,572.48M265.53,589.57L276.31,578.79M265.53,602.97L276.31,592.19M268.80,613.10L276.31,605.59" stroke="#c84420" stroke-width="1.0" fill="none"/><rect x="265.83" y="572.78" width="10.19" height="40.32" fill="none" stroke="#ff5040" stroke-width="0.7" stroke-opacity="0.6"/>
<rect x="319.46" y="583.31" width="10.79" height="29.79" fill="#00ff00"/><path d="M319.46,589.24L325.39,583.31M319.46,602.64L330.24,591.86M322.40,613.10L330.24,605.26" stroke="#c84420" stroke-width="1.0" fill="none"/><rect x="319.76" y="583.61" width="10.19" height="29.49" fill="none" stroke="#ff5040" stroke-width="0.7" stroke-opacity="0.6"/>
<rect x="373.39" y="603.89" width="10.79" height="9.21" fill="#00ff00"/><path d="M376.00,613.10L384.17,604.93" stroke="#c84420" stroke-width="1.0" fill="none"/><rect x="373.69" y="604.19" width="10.19" height="8.91" fill="none" stroke="#ff5040" stroke-width="0.7" stroke-opacity="0.6"/>
<rect x="168.45" y="590.35" width="10.79" height="22.75" fill="#ffff00"/><path d="M168.45,592.85L170.95,590.35M168.45,606.25L179.24,595.46M175.00,613.10L179.24,608.86" stroke="#40e020" stroke-width="1.0" fill="none"/><rect x="168.75" y="590.65" width="10.19" height="22.45" fill="none" stroke="#70f050" stroke-width="0.7" stroke-opacity="0.6"/>
<rect x="222.38" y="538.90" width="10.79" height="74.20" fill="#ffff00"/><path d="M222.38,538.92L222.40,538.90M222.38,552.32L233.17,541.53M222.38,565.72L233.17,554.93M222.38,579.12L233.17,568.33M222.38,592.52L233.17,581.73M222.38,605.92L233.17,595.13M228.60,613.10L233.17,608.53" stroke="#40e020" stroke-width="1.0" fill="none"/><rect x="222.68" y="539.20" width="10.19" height="73.90" fill="none" stroke="#70f050" stroke-width="0.7" stroke-opacity="0.6"/>
<rect x="276.31" y="519.94" width="10.79" height="93.16" fill="#ffff00"/><path d="M276.31,525.19L281.56,519.94M276.31,538.59L287.10,527.80M276.31,551.99L287.10,541.20M276.31,565.39L287.10,554.60M276.31,578.79L287.10,568.00M276.31,592.19L287.10,581.40M276.31,605.59L287.10,594.80M282.20,613.10L287.10,608.20" stroke="#40e020" stroke-width="1.0" fill="none"/><rect x="276.61" y="520.24" width="10.19" height="92.86" fill="none" stroke="#70f050" stroke-width="0.7" stroke-opacity="0.6"/>
<rect x="330.24" y="477.16" width="10.79" height="135.94" fill="#ffff00"/><path d="M330.24,484.66L337.74,477.16M330.24,498.06L341.03,487.27M330.24,511.46L341.03,500.67M330.24,524.86L341.03,514.07M330.24,538.26L341.03,527.47M330.24,551.66L341.03,540.87M330.24,565.06L341.03,554.27M330.24,578.46L341.03,567.67M330.24,591.86L341.03,581.07M330.24,605.26L341.03,594.47M335.80,613.10L341.03,607.87" stroke="#40e020" stroke-width="1.0" fill="none"/><rect x="330.54" y="477.46" width="10.19" height="135.64" fill="none" stroke="#70f050" stroke-width="0.7" stroke-opacity="0.6"/>
<rect x="384.17" y="507.49" width="10.79" height="105.61" fill="#ffff00"/><path d="M384.17,511.13L387.81,507.49M384.17,524.53L394.96,513.74M384.17,537.93L394.96,527.14M384.17,551.33L394.96,540.54M384.17,564.73L394.96,553.94M384.17,578.13L394.96,567.34M384.17,591.53L394.96,580.74M384.17,604.93L394.96,594.14M389.40,613.10L394.96,607.54" stroke="#40e020" stroke-width="1.0" fill="none"/><rect x="384.47" y="507.79" width="10.19" height="105.31" fill="none" stroke="#70f050" stroke-width="0.7" stroke-opacity="0.6"/>
<rect x="438.10" y="540.53" width="10.79" height="72.57" fill="#ffff00"/><path d="M438.10,551.00L448.57,540.53M438.10,564.40L448.89,553.61M438.10,577.80L448.89,567.01M438.10,591.20L448.89,580.41M438.10,604.60L448.89,593.81M443.00,613.10L448.89,607.21" stroke="#40e020" stroke-width="1.0" fill="none"/><rect x="438.40" y="540.83" width="10.19" height="72.27" fill="none" stroke="#70f050" stroke-width="0.7" stroke-opacity="0.6"/>
<rect x="492.03" y="590.35" width="10.79" height="22.75" fill="#ffff00"/><path d="M492.03,590.87L492.55,590.35M492.03,604.27L502.82,593.48M496.60,613.10L502.82,606.88" stroke="#40e020" stroke-width="1.0" fill="none"/><rect x="492.33" y="590.65" width="10.19" height="22.45" fill="none" stroke="#70f050" stroke-width="0.7" stroke-opacity="0.6"/>
<rect x="545.96" y="602.27" width="10.79" height="10.83" fill="#ffff00"/><path d="M545.96,603.94L547.63,602.27M550.20,613.10L556.75,606.55" stroke="#40e020" stroke-width="1.0" fill="none"/><rect x="546.26" y="602.57" width="10.19" height="10.53" fill="none" stroke="#70f050" stroke-width="0.7" stroke-opacity="0.6"/>
<rect x="125.31" y="593.60" width="10.79" height="19.50" fill="#0000ff"/><path d="M125.31,595.79L127.50,593.60M125.31,609.19L136.09,598.40M134.80,613.10L136.09,611.81" stroke="#e0e050" stroke-width="1.0" fill="none"/><rect x="125.61" y="593.90" width="10.19" height="19.20" fill="none" stroke="#e0e030" stroke-width="0.7" stroke-opacity="0.6"/>
<rect x="179.24" y="510.74" width="10.79" height="102.36" fill="#0000ff"/><path d="M179.24,515.06L183.56,510.74M179.24,528.46L190.02,517.68M179.24,541.86L190.02,531.08M179.24,555.26L190.02,544.48M179.24,568.66L190.02,557.88M179.24,582.06L190.02,571.28M179.24,595.46L190.02,584.68M179.24,608.86L190.02,598.08M188.40,613.10L190.02,611.48" stroke="#e0e050" stroke-width="1.0" fill="none"/><rect x="179.54" y="511.04" width="10.19" height="102.06" fill="none" stroke="#e0e030" stroke-width="0.7" stroke-opacity="0.6"/>
<rect x="233.17" y="447.91" width="10.79" height="165.19" fill="#0000ff"/><path d="M233.17,461.13L243.95,450.35M233.17,474.53L243.95,463.75M233.17,487.93L243.95,477.15M233.17,501.33L243.95,490.55M233.17,514.73L243.95,503.94M233.17,528.13L243.95,517.35M233.17,541.53L243.95,530.75M233.17,554.93L243.95,544.14M233.17,568.33L243.95,557.55M233.17,581.73L243.95,570.94M233.17,595.13L243.95,584.35M233.17,608.53L243.95,597.75M242.00,613.10L243.95,611.14" stroke="#e0e050" stroke-width="1.0" fill="none"/><rect x="233.47" y="448.21" width="10.19" height="164.89" fill="none" stroke="#e0e030" stroke-width="0.7" stroke-opacity="0.6"/>
<rect x="287.10" y="479.32" width="10.79" height="133.78" fill="#0000ff"/><path d="M287.10,487.60L295.38,479.32M287.10,501.00L297.88,490.22M287.10,514.40L297.88,503.62M287.10,527.80L297.88,517.01M287.10,541.20L297.88,530.42M287.10,554.60L297.88,543.82M287.10,568.00L297.88,557.22M287.10,581.40L297.88,570.62M287.10,594.80L297.88,584.01M287.10,608.20L297.88,597.42M295.60,613.10L297.88,610.82" stroke="#e0e050" stroke-width="1.0" fill="none"/><rect x="287.40" y="479.62" width="10.19" height="133.48" fill="none" stroke="#e0e030" stroke-width="0.7" stroke-opacity="0.6"/>
<rect x="341.03" y="550.27" width="10.79" height="62.83" fill="#0000ff"/><path d="M341.03,554.27L345.03,550.27M341.03,567.67L351.81,556.88M341.03,581.07L351.81,570.29M341.03,594.47L351.81,583.68M341.03,607.87L351.81,597.09M349.20,613.10L351.81,610.49" stroke="#e0e050" stroke-width="1.0" fill="none"/><rect x="341.33" y="550.57" width="10.19" height="62.53" fill="none" stroke="#e0e030" stroke-width="0.7" stroke-opacity="0.6"/>
<rect x="394.96" y="583.31" width="10.79" height="29.79" fill="#0000ff"/><path d="M394.96,594.14L405.75,583.36M394.96,607.54L405.75,596.75M402.80,613.10L405.75,610.15" stroke="#e0e050" stroke-width="1.0" fill="none"/><rect x="395.26" y="583.61" width="10.19" height="29.49" fill="none" stroke="#e0e030" stroke-width="0.7" stroke-opacity="0.6"/>
<rect x="448.89" y="592.52" width="10.79" height="20.58" fill="#0000ff"/><path d="M448.89,593.81L450.18,592.52M448.89,607.21L459.67,596.43M456.40,613.10L459.67,609.83" stroke="#e0e050" stroke-width="1.0" fill="none"/><rect x="449.19" y="592.82" width="10.19" height="20.28" fill="none" stroke="#e0e030" stroke-width="0.7" stroke-opacity="0.6"/>
<rect x="502.82" y="608.77" width="10.79" height="4.33" fill="#0000ff"/><path d="M510.00,613.10L513.60,609.50" stroke="#e0e050" stroke-width="1.0" fill="none"/><rect x="503.12" y="609.07" width="10.19" height="4.03" fill="none" stroke="#e0e030" stroke-width="0.7" stroke-opacity="0.6"/>
<rect x="556.75" y="612.02" width="10.79" height="1.08" fill="#0000ff"/><path d="M563.60,613.10L564.68,612.02" stroke="#e0e050" stroke-width="1.0" fill="none"/><rect x="557.05" y="612.32" width="10.19" height="0.78" fill="none" stroke="#e0e030" stroke-width="0.7" stroke-opacity="0.6"/>
<rect x="82.16" y="597.94" width="10.79" height="15.16" fill="#000000"/>
<rect x="136.09" y="572.48" width="10.79" height="40.62" fill="#000000"/>
<rect x="190.02" y="456.58" width="10.79" height="156.52" fill="#000000"/>
<rect x="243.95" y="410.00" width="10.79" height="203.10" fill="#000000"/>
<rect x="297.88" y="507.49" width="10.79" height="105.61" fill="#000000"/>
<rect x="351.81" y="593.60" width="10.79" height="19.50" fill="#000000"/>
<rect x="405.74" y="610.93" width="10.79" height="2.17" fill="#000000"/>
<rect x="92.95" y="610.93" width="10.79" height="2.17" fill="#ff0000"/><path d="M94.60,613.10L96.77,610.93" stroke="#ffc8c8" stroke-width="1.0" fill="none"/><rect x="93.25" y="611.23" width="10.19" height="1.87" fill="none" stroke="#ff0000" stroke-width="0.7" stroke-opacity="0.6"/>
<rect x="146.88" y="545.94" width="10.79" height="67.16" fill="#ff0000"/><path d="M146.88,547.42L148.36,545.94M146.88,560.82L157.67,550.03M146.88,574.22L157.67,563.43M146.88,587.62L157.67,576.83M146.88,601.02L157.67,590.23M148.20,613.10L157.67,603.63" stroke="#ffc8c8" stroke-width="1.0" fill="none"/><rect x="147.18" y="546.24" width="10.19" height="66.86" fill="none" stroke="#ff0000" stroke-width="0.7" stroke-opacity="0.6"/>
<rect x="200.81" y="373.71" width="10.79" height="239.39" fill="#ff0000"/><path d="M200.81,386.29L211.60,375.50M200.81,399.69L211.60,388.90M200.81,413.09L211.60,402.30M200.81,426.49L211.60,415.70M200.81,439.89L211.60,429.10M200.81,453.29L211.60,442.50M200.81,466.69L211.60,455.90M200.81,480.09L211.60,469.30M200.81,493.49L211.60,482.70M200.81,506.89L211.60,496.10M200.81,520.29L211.60,509.50M200.81,533.69L211.60,522.90M200.81,547.09L211.60,536.30M200.81,560.49L211.60,549.70M200.81,573.89L211.60,563.10M200.81,587.29L211.60,576.50M200.81,600.69L211.60,589.90M201.80,613.10L211.60,603.30" stroke="#ffc8c8" stroke-width="1.0" fill="none"/><rect x="201.11" y="374.01" width="10.19" height="239.09" fill="none" stroke="#ff0000" stroke-width="0.7" stroke-opacity="0.6"/>
<rect x="254.74" y="498.82" width="10.79" height="114.28" fill="#ff0000"/><path d="M254.74,506.56L262.48,498.82M254.74,519.96L265.53,509.17M254.74,533.36L265.53,522.57M254.74,546.76L265.53,535.97M254.74,560.16L265.53,549.37M254.74,573.56L265.53,562.77M254.74,586.96L265.53,576.17M254.74,600.36L265.53,589.57M255.40,613.10L265.53,602.97" stroke="#ffc8c8" stroke-width="1.0" fill="none"/><rect x="255.04" y="499.12" width="10.19" height="113.98" fill="none" stroke="#ff0000" stroke-width="0.7" stroke-opacity="0.6"/>
<rect x="308.67" y="508.03" width="10.79" height="105.07" fill="#ff0000"/><path d="M308.67,519.63L319.46,508.84M308.67,533.03L319.46,522.24M308.67,546.43L319.46,535.64M308.67,559.83L319.46,549.04M308.67,573.23L319.46,562.44M308.67,586.63L319.46,575.84M308.67,600.03L319.46,589.24M309.00,613.10L319.46,602.64" stroke="#ffc8c8" stroke-width="1.0" fill="none"/><rect x="308.97" y="508.33" width="10.19" height="104.77" fill="none" stroke="#ff0000" stroke-width="0.7" stroke-opacity="0.6"/>
<rect x="362.60" y="600.10" width="10.79" height="13.00" fill="#ff0000"/><path d="M362.60,613.10L373.39,602.31" stroke="#ffc8c8" stroke-width="1.0" fill="none"/><rect x="362.90" y="600.40" width="10.19" height="12.70" fill="none" stroke="#ff0000" stroke-width="0.7" stroke-opacity="0.6"/>
<rect x="416.53" y="611.48" width="10.79" height="1.62" fill="#ff0000"/><path d="M416.53,612.77L417.82,611.48" stroke="#ffc8c8" stroke-width="1.0" fill="none"/><rect x="416.83" y="611.78" width="10.19" height="1.32" fill="none" stroke="#ff0000" stroke-width="0.7" stroke-opacity="0.6"/>
<polyline points="55.20,612.85 56.55,612.83 57.90,612.80 59.24,612.78 60.59,612.75 61.94,612.71 63.29,612.68 64.64,612.64 65.99,612.60 67.33,612.56 68.68,612.51 70.03,612.46 71.38,612.41 72.73,612.35 74.08,612.28 75.42,612.21 76.77,612.14 78.12,612.06 79.47,611.98 80.82,611.89 82.16,611.79 83.51,611.68 84.86,611.57 86.21,611.45 87.56,611.32 88.91,611.19 90.25,611.04 91.60,610.88 92.95,610.72 94.30,610.54 95.65,610.35 97.00,610.15 98.34,609.93 99.69,609.70 101.04,609.46 102.39,609.20 103.74,608.93 105.09,608.63 106.43,608.33 107.78,608.00 109.13,607.65 110.48,607.29 111.83,606.90 113.17,606.49 114.52,606.06 115.87,605.60 117.22,605.12 118.57,604.61 119.92,604.08 121.26,603.52 122.61,602.93 123.96,602.31 125.31,601.66 126.66,600.97 128.01,600.25 129.35,599.50 130.70,598.72 132.05,597.89 133.40,597.03 134.75,596.13 136.09,595.19 137.44,594.21 138.79,593.18 140.14,592.12 141.49,591.01 142.84,589.85 144.18,588.65 145.53,587.40 146.88,586.10 148.23,584.75 149.58,583.36 150.93,581.91 152.27,580.41 153.62,578.86 154.97,577.26 156.32,575.60 157.67,573.89 159.02,572.13 160.36,570.31 161.71,568.44 163.06,566.51 164.41,564.53 165.76,562.50 167.10,560.41 168.45,558.26 169.80,556.07 171.15,553.81 172.50,551.51 173.85,549.15 175.19,546.75 176.54,544.29 177.89,541.78 179.24,539.23 180.59,536.62 181.94,533.98 183.28,531.29 184.63,528.55 185.98,525.78 187.33,522.97 188.68,520.12 190.02,517.24 191.37,514.33 192.72,511.39 194.07,508.42 195.42,505.43 196.77,502.42 198.11,499.39 199.46,496.34 200.81,493.29 202.16,490.23 203.51,487.16 204.86,484.09 206.20,481.03 207.55,477.97 208.90,474.92 210.25,471.88 211.60,468.86 212.95,465.87 214.29,462.90 215.64,459.96 216.99,457.05 218.34,454.18 219.69,451.35 221.03,448.57 222.38,445.84 223.73,443.17 225.08,440.55 226.43,437.99 227.78,435.51 229.12,433.09 230.47,430.74 231.82,428.47 233.17,426.29 234.52,424.19 235.87,422.17 237.21,420.25 238.56,418.42 239.91,416.69 241.26,415.07 242.61,413.54 243.95,412.12 245.30,410.81 246.65,409.61 248.00,408.52 249.35,407.55 250.70,406.69 252.04,405.95 253.39,405.33 254.74,404.83 256.09,404.46 257.44,404.20 258.79,404.06 260.13,404.05 261.48,404.16 262.83,404.39 264.18,404.75 265.53,405.22 266.88,405.82 268.22,406.54 269.57,407.37 270.92,408.32 272.27,409.38 273.62,410.56 274.96,411.85 276.31,413.25 277.66,414.75 279.01,416.36 280.36,418.07 281.71,419.88 283.05,421.78 284.40,423.78 285.75,425.86 287.10,428.03 288.45,430.28 289.80,432.61 291.14,435.02 292.49,437.49 293.84,440.03 295.19,442.64 296.54,445.30 297.88,448.02 299.23,450.79 300.58,453.61 301.93,456.47 303.28,459.37 304.63,462.31 305.97,465.27 307.32,468.26 308.67,471.28 310.02,474.31 311.37,477.35 312.72,480.41 314.06,483.48 315.41,486.55 316.76,489.61 318.11,492.68 319.46,495.73 320.81,498.78 322.15,501.81 323.50,504.83 324.85,507.82 326.20,510.80 327.55,513.74 328.89,516.66 330.24,519.55 331.59,522.40 332.94,525.22 334.29,528.00 335.64,530.74 336.98,533.44 338.33,536.10 339.68,538.71 341.03,541.27 342.38,543.79 343.73,546.26 345.07,548.68 346.42,551.04 347.77,553.36 349.12,555.62 350.47,557.83 351.81,559.98 353.16,562.08 354.51,564.13 355.86,566.12 357.21,568.06 358.56,569.94 359.90,571.77 361.25,573.54 362.60,575.26 363.95,576.93 365.30,578.54 366.65,580.10 367.99,581.61 369.34,583.07 370.69,584.48 372.04,585.83 373.39,587.14 374.74,588.40 376.08,589.61 377.43,590.78 378.78,591.90 380.13,592.97 381.48,594.01 382.82,595.00 384.17,595.94 385.52,596.85 386.87,597.72 388.22,598.55 389.57,599.35 390.91,600.11 392.26,600.83 393.61,601.52 394.96,602.18 396.31,602.81 397.66,603.40 399.00,603.97 400.35,604.51 401.70,605.02 403.05,605.51 404.40,605.97 405.74,606.40 407.09,606.82 408.44,607.21 409.79,607.58 411.14,607.93 412.49,608.26 413.83,608.57 415.18,608.87 416.53,609.15 417.88,609.41 419.23,609.65 420.58,609.89 421.92,610.10 423.27,610.31 424.62,610.50 425.97,610.68 427.32,610.85 428.67,611.01 430.01,611.16 431.36,611.30 432.71,611.43 434.06,611.55 435.41,611.66 436.75,611.77 438.10,611.87 439.45,611.96 440.80,612.05 442.15,612.13 443.50,612.20 444.84,612.27 446.19,612.33 447.54,612.39 448.89,612.45 450.24,612.50 451.59,612.55 452.93,612.59 454.28,612.63 455.63,612.67 456.98,612.71 458.33,612.74 459.67,612.77 461.02,612.80 462.37,612.82 463.72,612.85 465.07,612.87 466.42,612.89 467.76,612.91 469.11,612.92 470.46,612.94 471.81,612.95 473.16,612.97 474.51,612.98 475.85,612.99 477.20,613.00 478.55,613.01 479.90,613.02 481.25,613.02 482.60,613.03 483.94,613.04 485.29,613.04 486.64,613.05 487.99,613.05 489.34,613.06 490.68,613.06 492.03,613.07 493.38,613.07 494.73,613.07 496.08,613.07 497.43,613.08 498.77,613.08 500.12,613.08 501.47,613.08 502.82,613.08 504.17,613.09 505.52,613.09 506.86,613.09 508.21,613.09 509.56,613.09 510.91,613.09 512.26,613.09 513.60,613.09 514.95,613.09 516.30,613.09 517.65,613.10 519.00,613.10 520.35,613.10 521.69,613.10 523.04,613.10 524.39,613.10 525.74,613.10 527.09,613.10 528.44,613.10 529.78,613.10 531.13,613.10 532.48,613.10 533.83,613.10 535.18,613.10 536.53,613.10 537.87,613.10 539.22,613.10 540.57,613.10 541.92,613.10 543.27,613.10 544.61,613.10 545.96,613.10 547.31,613.10 548.66,613.10 550.01,613.10 551.36,613.10 552.70,613.10 554.05,613.10 555.40,613.10 556.75,613.10 558.10,613.10 559.45,613.10 560.79,613.10 562.14,613.10 563.49,613.10 564.84,613.10 566.19,613.10 567.53,613.10 568.88,613.10 570.23,613.10 571.58,613.10 572.93,613.10 574.28,613.10 575.62,613.10 576.97,613.10 578.32,613.10 579.67,613.10 581.02,613.10 582.37,613.10 583.71,613.10 585.06,613.10 586.41,613.10 587.76,613.10 589.11,613.10 590.46,613.10 591.80,613.10 593.15,613.10 594.50,613.10" fill="none" stroke="#000000" stroke-width="2.0" stroke-linejoin="round"/>
<polyline points="55.20,611.96 56.55,611.87 57.90,611.77 59.24,611.66 60.59,611.55 61.94,611.42 63.29,611.29 64.64,611.15 65.99,611.00 67.33,610.84 68.68,610.67 70.03,610.48 71.38,610.29 72.73,610.08 74.08,609.86 75.42,609.62 76.77,609.37 78.12,609.10 79.47,608.82 80.82,608.52 82.16,608.20 83.51,607.86 84.86,607.50 86.21,607.12 87.56,606.72 88.91,606.30 90.25,605.85 91.60,605.38 92.95,604.88 94.30,604.35 95.65,603.80 97.00,603.22 98.34,602.61 99.69,601.96 101.04,601.29 102.39,600.58 103.74,599.83 105.09,599.05 106.43,598.24 107.78,597.38 109.13,596.49 110.48,595.55 111.83,594.57 113.17,593.55 114.52,592.49 115.87,591.38 117.22,590.23 118.57,589.03 119.92,587.78 121.26,586.48 122.61,585.14 123.96,583.74 125.31,582.29 126.66,580.79 128.01,579.24 129.35,577.63 130.70,575.97 132.05,574.25 133.40,572.48 134.75,570.65 136.09,568.77 137.44,566.83 138.79,564.84 140.14,562.79 141.49,560.69 142.84,558.53 144.18,556.31 145.53,554.04 146.88,551.72 148.23,549.34 149.58,546.91 150.93,544.43 152.27,541.90 153.62,539.32 154.97,536.69 156.32,534.01 157.67,531.29 159.02,528.53 160.36,525.73 161.71,522.89 163.06,520.01 164.41,517.09 165.76,514.15 167.10,511.17 168.45,508.17 169.80,505.15 171.15,502.10 172.50,499.04 173.85,495.96 175.19,492.87 176.54,489.77 177.89,486.67 179.24,483.57 180.59,480.47 181.94,477.38 183.28,474.30 184.63,471.24 185.98,468.19 187.33,465.17 188.68,462.17 190.02,459.21 191.37,456.28 192.72,453.39 194.07,450.55 195.42,447.75 196.77,445.01 198.11,442.32 199.46,439.70 200.81,437.14 202.16,434.64 203.51,432.23 204.86,429.88 206.20,427.62 207.55,425.45 208.90,423.36 210.25,421.36 211.60,419.46 212.95,417.65 214.29,415.95 215.64,414.35 216.99,412.86 218.34,411.48 219.69,410.20 221.03,409.05 222.38,408.01 223.73,407.08 225.08,406.28 226.43,405.60 227.78,405.04 229.12,404.60 230.47,404.29 231.82,404.10 233.17,404.04 234.52,404.10 235.87,404.29 237.21,404.60 238.56,405.04 239.91,405.60 241.26,406.28 242.61,407.08 243.95,408.01 245.30,409.05 246.65,410.20 248.00,411.48 249.35,412.86 250.70,414.35 252.04,415.95 253.39,417.65 254.74,419.46 256.09,421.36 257.44,423.36 258.79,425.45 260.13,427.62 261.48,429.88 262.83,432.23 264.18,434.64 265.53,437.14 266.88,439.70 268.22,442.32 269.57,445.01 270.92,447.75 272.27,450.55 273.62,453.39 274.96,456.28 276.31,459.21 277.66,462.17 279.01,465.17 280.36,468.19 281.71,471.24 283.05,474.30 284.40,477.38 285.75,480.47 287.10,483.57 288.45,486.67 289.80,489.77 291.14,492.87 292.49,495.96 293.84,499.04 295.19,502.10 296.54,505.15 297.88,508.17 299.23,511.17 300.58,514.15 301.93,517.09 303.28,520.01 304.63,522.89 305.97,525.73 307.32,528.53 308.67,531.29 310.02,534.01 311.37,536.69 312.72,539.32 314.06,541.90 315.41,544.43 316.76,546.91 318.11,549.34 319.46,551.72 320.81,554.04 322.15,556.31 323.50,558.53 324.85,560.69 326.20,562.79 327.55,564.84 328.89,566.83 330.24,568.77 331.59,570.65 332.94,572.48 334.29,574.25 335.64,575.97 336.98,577.63 338.33,579.24 339.68,580.79 341.03,582.29 342.38,583.74 343.73,585.14 345.07,586.48 346.42,587.78 347.77,589.03 349.12,590.23 350.47,591.38 351.81,592.49 353.16,593.55 354.51,594.57 355.86,595.55 357.21,596.49 358.56,597.38 359.90,598.24 361.25,599.05 362.60,599.83 363.95,600.58 365.30,601.29 366.65,601.96 367.99,602.61 369.34,603.22 370.69,603.80 372.04,604.35 373.39,604.88 374.74,605.38 376.08,605.85 377.43,606.30 378.78,606.72 380.13,607.12 381.48,607.50 382.82,607.86 384.17,608.20 385.52,608.52 386.87,608.82 388.22,609.10 389.57,609.37 390.91,609.62 392.26,609.86 393.61,610.08 394.96,610.29 396.31,610.48 397.66,610.67 399.00,610.84 400.35,611.00 401.70,611.15 403.05,611.29 404.40,611.42 405.74,611.55 407.09,611.66 408.44,611.77 409.79,611.87 411.14,611.96 412.49,612.05 413.83,612.13 415.18,612.20 416.53,612.27 417.88,612.34 419.23,612.40 420.58,612.45 421.92,612.51 423.27,612.55 424.62,612.60 425.97,612.64 427.32,612.68 428.67,612.71 430.01,612.74 431.36,612.77 432.71,612.80 434.06,612.83 435.41,612.85 436.75,612.87 438.10,612.89 439.45,612.91 440.80,612.93 442.15,612.94 443.50,612.96 444.84,612.97 446.19,612.98 447.54,612.99 448.89,613.00 450.24,613.01 451.59,613.02 452.93,613.03 454.28,613.03 455.63,613.04 456.98,613.05 458.33,613.05 459.67,613.06 461.02,613.06 462.37,613.06 463.72,613.07 465.07,613.07 466.42,613.07 467.76,613.08 469.11,613.08 470.46,613.08 471.81,613.08 473.16,613.08 474.51,613.09 475.85,613.09 477.20,613.09 478.55,613.09 479.90,613.09 481.25,613.09 482.60,613.09 483.94,613.09 485.29,613.09 486.64,613.09 487.99,613.10 489.34,613.10 490.68,613.10 492.03,613.10 493.38,613.10 494.73,613.10 496.08,613.10 497.43,613.10 498.77,613.10 500.12,613.10 501.47,613.10 502.82,613.10 504.17,613.10 505.52,613.10 506.86,613.10 508.21,613.10 509.56,613.10 510.91,613.10 512.26,613.10 513.60,613.10 514.95,613.10 516.30,613.10 517.65,613.10 519.00,613.10 520.35,613.10 521.69,613.10 523.04,613.10 524.39,613.10 525.74,613.10 527.09,613.10 528.44,613.10 529.78,613.10 531.13,613.10 532.48,613.10 533.83,613.10 535.18,613.10 536.53,613.10 537.87,613.10 539.22,613.10 540.57,613.10 541.92,613.10 543.27,613.10 544.61,613.10 545.96,613.10 547.31,613.10 548.66,613.10 550.01,613.10 551.36,613.10 552.70,613.10 554.05,613.10 555.40,613.10 556.75,613.10 558.10,613.10 559.45,613.10 560.79,613.10 562.14,613.10 563.49,613.10 564.84,613.10 566.19,613.10 567.53,613.10 568.88,613.10 570.23,613.10 571.58,613.10 572.93,613.10 574.28,613.10 575.62,613.10 576.97,613.10 578.32,613.10 579.67,613.10 581.02,613.10 582.37,613.10 583.71,613.10 585.06,613.10 586.41,613.10 587.76,613.10 589.11,613.10 590.46,613.10 591.80,613.10 593.15,613.10 594.50,613.10" fill="none" stroke="#ff0000" stroke-width="1.6" stroke-linejoin="round"/>
<polyline points="55.20,609.46 56.55,609.11 57.90,608.72 59.24,608.30 60.59,607.85 61.94,607.35 63.29,606.82 64.64,606.25 65.99,605.63 67.33,604.97 68.68,604.26 70.03,603.49 71.38,602.67 72.73,601.79 74.08,600.85 75.42,599.84 76.77,598.77 78.12,597.62 79.47,596.40 80.82,595.11 82.16,593.73 83.51,592.27 84.86,590.72 86.21,589.08 87.56,587.35 88.91,585.53 90.25,583.60 91.60,581.57 92.95,579.44 94.30,577.21 95.65,574.86 97.00,572.40 98.34,569.83 99.69,567.15 101.04,564.34 102.39,561.43 103.74,558.39 105.09,555.24 106.43,551.96 107.78,548.57 109.13,545.07 110.48,541.45 111.83,537.71 113.17,533.86 114.52,529.90 115.87,525.83 117.22,521.66 118.57,517.39 119.92,513.03 121.26,508.57 122.61,504.03 123.96,499.41 125.31,494.72 126.66,489.96 128.01,485.15 129.35,480.28 130.70,475.38 132.05,470.44 133.40,465.48 134.75,460.50 136.09,455.52 137.44,450.55 138.79,445.59 140.14,440.66 141.49,435.78 142.84,430.94 144.18,426.17 145.53,421.47 146.88,416.85 148.23,412.34 149.58,407.93 150.93,403.65 152.27,399.50 153.62,395.49 154.97,391.64 156.32,387.95 157.67,384.44 159.02,381.12 160.36,378.00 161.71,375.08 163.06,372.37 164.41,369.89 165.76,367.64 167.10,365.62 168.45,363.85 169.80,362.32 171.15,361.05 172.50,360.04 173.85,359.28 175.19,358.79 176.54,358.57 177.89,358.60 179.24,358.90 180.59,359.47 181.94,360.30 183.28,361.38 184.63,362.73 185.98,364.32 187.33,366.16 188.68,368.25 190.02,370.56 191.37,373.11 192.72,375.87 194.07,378.85 195.42,382.03 196.77,385.41 198.11,388.97 199.46,392.70 200.81,396.60 202.16,400.65 203.51,404.83 204.86,409.15 206.20,413.59 207.55,418.14 208.90,422.77 210.25,427.49 211.60,432.29 212.95,437.14 214.29,442.04 215.64,446.98 216.99,451.94 218.34,456.91 219.69,461.89 221.03,466.87 222.38,471.82 223.73,476.75 225.08,481.65 226.43,486.50 227.78,491.30 229.12,496.04 230.47,500.71 231.82,505.31 233.17,509.83 234.52,514.26 235.87,518.60 237.21,522.84 238.56,526.98 239.91,531.02 241.26,534.95 242.61,538.77 243.95,542.47 245.30,546.06 246.65,549.54 248.00,552.89 249.35,556.13 250.70,559.25 252.04,562.25 253.39,565.14 254.74,567.91 256.09,570.56 257.44,573.10 258.79,575.53 260.13,577.84 261.48,580.05 262.83,582.15 264.18,584.15 265.53,586.05 266.88,587.85 268.22,589.55 269.57,591.16 270.92,592.69 272.27,594.12 273.62,595.48 274.96,596.75 276.31,597.95 277.66,599.07 279.01,600.13 280.36,601.12 281.71,602.04 283.05,602.91 284.40,603.71 285.75,604.46 287.10,605.16 288.45,605.81 289.80,606.42 291.14,606.98 292.49,607.50 293.84,607.98 295.19,608.42 296.54,608.83 297.88,609.21 299.23,609.56 300.58,609.88 301.93,610.17 303.28,610.44 304.63,610.69 305.97,610.92 307.32,611.13 308.67,611.32 310.02,611.49 311.37,611.65 312.72,611.79 314.06,611.92 315.41,612.04 316.76,612.15 318.11,612.25 319.46,612.33 320.81,612.41 322.15,612.49 323.50,612.55 324.85,612.61 326.20,612.66 327.55,612.71 328.89,612.75 330.24,612.79 331.59,612.83 332.94,612.86 334.29,612.89 335.64,612.91 336.98,612.93 338.33,612.95 339.68,612.97 341.03,612.98 342.38,613.00 343.73,613.01 345.07,613.02 346.42,613.03 347.77,613.04 349.12,613.05 350.47,613.05 351.81,613.06 353.16,613.06 354.51,613.07 355.86,613.07 357.21,613.08 358.56,613.08 359.90,613.08 361.25,613.08 362.60,613.09 363.95,613.09 365.30,613.09 366.65,613.09 367.99,613.09 369.34,613.09 370.69,613.09 372.04,613.10 373.39,613.10 374.74,613.10 376.08,613.10 377.43,613.10 378.78,613.10 380.13,613.10 381.48,613.10 382.82,613.10 384.17,613.10 385.52,613.10 386.87,613.10 388.22,613.10 389.57,613.10 390.91,613.10 392.26,613.10 393.61,613.10 394.96,613.10 396.31,613.10 397.66,613.10 399.00,613.10 400.35,613.10 401.70,613.10 403.05,613.10 404.40,613.10 405.74,613.10 407.09,613.10 408.44,613.10 409.79,613.10 411.14,613.10 412.49,613.10 413.83,613.10 415.18,613.10 416.53,613.10 417.88,613.10 419.23,613.10 420.58,613.10 421.92,613.10 423.27,613.10 424.62,613.10 425.97,613.10 427.32,613.10 428.67,613.10 430.01,613.10 431.36,613.10 432.71,613.10 434.06,613.10 435.41,613.10 436.75,613.10 438.10,613.10 439.45,613.10 440.80,613.10 442.15,613.10 443.50,613.10 444.84,613.10 446.19,613.10 447.54,613.10 448.89,613.10 450.24,613.10 451.59,613.10 452.93,613.10 454.28,613.10 455.63,613.10 456.98,613.10 458.33,613.10 459.67,613.10 461.02,613.10 462.37,613.10 463.72,613.10 465.07,613.10 466.42,613.10 467.76,613.10 469.11,613.10 470.46,613.10 471.81,613.10 473.16,613.10 474.51,613.10 475.85,613.10 477.20,613.10 478.55,613.10 479.90,613.10 481.25,613.10 482.60,613.10 483.94,613.10 485.29,613.10 486.64,613.10 487.99,613.10 489.34,613.10 490.68,613.10 492.03,613.10 493.38,613.10 494.73,613.10 496.08,613.10 497.43,613.10 498.77,613.10 500.12,613.10 501.47,613.10 502.82,613.10 504.17,613.10 505.52,613.10 506.86,613.10 508.21,613.10 509.56,613.10 510.91,613.10 512.26,613.10 513.60,613.10 514.95,613.10 516.30,613.10 517.65,613.10 519.00,613.10 520.35,613.10 521.69,613.10 523.04,613.10 524.39,613.10 525.74,613.10 527.09,613.10 528.44,613.10 529.78,613.10 531.13,613.10 532.48,613.10 533.83,613.10 535.18,613.10 536.53,613.10 537.87,613.10 539.22,613.10 540.57,613.10 541.92,613.10 543.27,613.10 544.61,613.10 545.96,613.10 547.31,613.10 548.66,613.10 550.01,613.10 551.36,613.10 552.70,613.10 554.05,613.10 555.40,613.10 556.75,613.10 558.10,613.10 559.45,613.10 560.79,613.10 562.14,613.10 563.49,613.10 564.84,613.10 566.19,613.10 567.53,613.10 568.88,613.10 570.23,613.10 571.58,613.10 572.93,613.10 574.28,613.10 575.62,613.10 576.97,613.10 578.32,613.10 579.67,613.10 581.02,613.10 582.37,613.10 583.71,613.10 585.06,613.10 586.41,613.10 587.76,613.10 589.11,613.10 590.46,613.10 591.80,613.10 593.15,613.10 594.50,613.10" fill="none" stroke="#00ff00" stroke-width="2.0" stroke-linejoin="round"/>
<polyline points="55.20,611.49 56.55,611.42 57.90,611.34 59.24,611.27 60.59,611.19 61.94,611.11 63.29,611.02 64.64,610.93 65.99,610.84 67.33,610.74 68.68,610.64 70.03,610.54 71.38,610.43 72.73,610.32 74.08,610.21 75.42,610.09 76.77,609.97 78.12,609.84 79.47,609.71 80.82,609.57 82.16,609.43 83.51,609.29 84.86,609.14 86.21,608.98 87.56,608.82 88.91,608.66 90.25,608.48 91.60,608.31 92.95,608.13 94.30,607.94 95.65,607.74 97.00,607.54 98.34,607.34 99.69,607.12 101.04,606.90 102.39,606.68 103.74,606.44 105.09,606.20 106.43,605.96 107.78,605.70 109.13,605.44 110.48,605.17 111.83,604.89 113.17,604.61 114.52,604.31 115.87,604.01 117.22,603.70 118.57,603.38 119.92,603.05 121.26,602.72 122.61,602.37 123.96,602.02 125.31,601.66 126.66,601.28 128.01,600.90 129.35,600.51 130.70,600.11 132.05,599.70 133.40,599.28 134.75,598.84 136.09,598.40 137.44,597.95 138.79,597.49 140.14,597.01 141.49,596.53 142.84,596.03 144.18,595.52 145.53,595.01 146.88,594.48 148.23,593.94 149.58,593.38 150.93,592.82 152.27,592.25 153.62,591.66 154.97,591.06 156.32,590.45 157.67,589.83 159.02,589.19 160.36,588.54 161.71,587.88 163.06,587.21 164.41,586.53 165.76,585.83 167.10,585.13 168.45,584.41 169.80,583.67 171.15,582.93 172.50,582.17 173.85,581.40 175.19,580.62 176.54,579.83 177.89,579.02 179.24,578.21 180.59,577.38 181.94,576.54 183.28,575.68 184.63,574.82 185.98,573.94 187.33,573.05 188.68,572.16 190.02,571.24 191.37,570.32 192.72,569.39 194.07,568.45 195.42,567.49 196.77,566.53 198.11,565.55 199.46,564.57 200.81,563.58 202.16,562.57 203.51,561.56 204.86,560.54 206.20,559.50 207.55,558.46 208.90,557.42 210.25,556.36 211.60,555.30 212.95,554.23 214.29,553.15 215.64,552.06 216.99,550.97 218.34,549.87 219.69,548.77 221.03,547.66 222.38,546.55 223.73,545.43 225.08,544.31 226.43,543.19 227.78,542.06 229.12,540.93 230.47,539.79 231.82,538.66 233.17,537.52 234.52,536.38 235.87,535.25 237.21,534.11 238.56,532.97 239.91,531.83 241.26,530.70 242.61,529.57 243.95,528.43 245.30,527.31 246.65,526.18 248.00,525.06 249.35,523.95 250.70,522.84 252.04,521.73 253.39,520.64 254.74,519.54 256.09,518.46 257.44,517.38 258.79,516.32 260.13,515.26 261.48,514.21 262.83,513.17 264.18,512.14 265.53,511.12 266.88,510.12 268.22,509.12 269.57,508.14 270.92,507.18 272.27,506.22 273.62,505.29 274.96,504.36 276.31,503.46 277.66,502.56 279.01,501.69 280.36,500.83 281.71,499.99 283.05,499.17 284.40,498.36 285.75,497.58 287.10,496.81 288.45,496.07 289.80,495.34 291.14,494.64 292.49,493.95 293.84,493.29 295.19,492.65 296.54,492.04 297.88,491.44 299.23,490.87 300.58,490.32 301.93,489.80 303.28,489.30 304.63,488.83 305.97,488.38 307.32,487.95 308.67,487.55 310.02,487.18 311.37,486.83 312.72,486.51 314.06,486.22 315.41,485.95 316.76,485.71 318.11,485.49 319.46,485.30 320.81,485.14 322.15,485.01 323.50,484.90 324.85,484.82 326.20,484.77 327.55,484.74 328.89,484.75 330.24,484.78 331.59,484.83 332.94,484.92 334.29,485.03 335.64,485.17 336.98,485.34 338.33,485.53 339.68,485.75 341.03,486.00 342.38,486.27 343.73,486.57 345.07,486.90 346.42,487.25 347.77,487.63 349.12,488.04 350.47,488.47 351.81,488.92 353.16,489.40 354.51,489.90 355.86,490.43 357.21,490.98 358.56,491.56 359.90,492.16 361.25,492.78 362.60,493.42 363.95,494.09 365.30,494.78 366.65,495.48 367.99,496.21 369.34,496.96 370.69,497.73 372.04,498.52 373.39,499.33 374.74,500.16 376.08,501.00 377.43,501.86 378.78,502.74 380.13,503.64 381.48,504.55 382.82,505.47 384.17,506.41 385.52,507.37 386.87,508.34 388.22,509.32 389.57,510.32 390.91,511.33 392.26,512.35 393.61,513.38 394.96,514.42 396.31,515.47 397.66,516.53 399.00,517.60 400.35,518.68 401.70,519.76 403.05,520.85 404.40,521.95 405.74,523.06 407.09,524.17 408.44,525.29 409.79,526.41 411.14,527.53 412.49,528.66 413.83,529.79 415.18,530.93 416.53,532.06 417.88,533.20 419.23,534.34 420.58,535.47 421.92,536.61 423.27,537.75 424.62,538.89 425.97,540.02 427.32,541.15 428.67,542.28 430.01,543.41 431.36,544.54 432.71,545.66 434.06,546.77 435.41,547.89 436.75,548.99 438.10,550.09 439.45,551.19 440.80,552.28 442.15,553.36 443.50,554.44 444.84,555.51 446.19,556.57 447.54,557.63 448.89,558.67 450.24,559.71 451.59,560.74 452.93,561.76 454.28,562.77 455.63,563.77 456.98,564.77 458.33,565.75 459.67,566.72 461.02,567.69 462.37,568.64 463.72,569.58 465.07,570.51 466.42,571.43 467.76,572.34 469.11,573.23 470.46,574.12 471.81,574.99 473.16,575.86 474.51,576.71 475.85,577.54 477.20,578.37 478.55,579.19 479.90,579.99 481.25,580.78 482.60,581.56 483.94,582.33 485.29,583.08 486.64,583.82 487.99,584.55 489.34,585.27 490.68,585.97 492.03,586.67 493.38,587.35 494.73,588.02 496.08,588.67 497.43,589.32 498.77,589.95 500.12,590.57 501.47,591.18 502.82,591.78 504.17,592.36 505.52,592.93 506.86,593.50 508.21,594.05 509.56,594.58 510.91,595.11 512.26,595.63 513.60,596.13 514.95,596.62 516.30,597.11 517.65,597.58 519.00,598.04 520.35,598.49 521.69,598.93 523.04,599.36 524.39,599.78 525.74,600.19 527.09,600.59 528.44,600.98 529.78,601.36 531.13,601.73 532.48,602.09 533.83,602.44 535.18,602.79 536.53,603.12 537.87,603.45 539.22,603.76 540.57,604.07 541.92,604.37 543.27,604.66 544.61,604.95 545.96,605.22 547.31,605.49 548.66,605.75 550.01,606.01 551.36,606.25 552.70,606.49 554.05,606.72 555.40,606.95 556.75,607.17 558.10,607.38 559.45,607.58 560.79,607.78 562.14,607.98 563.49,608.16 564.84,608.34 566.19,608.52 567.53,608.69 568.88,608.85 570.23,609.01 571.58,609.17 572.93,609.32 574.28,609.46 575.62,609.60 576.97,609.74 578.32,609.87 579.67,609.99 581.02,610.11 582.37,610.23 583.71,610.35 585.06,610.46 586.41,610.56 587.76,610.66 589.11,610.76 590.46,610.86 591.80,610.95 593.15,611.04 594.50,611.12" fill="none" stroke="#ffff00" stroke-width="2.2" stroke-linejoin="round"/>
<polyline points="55.20,607.55 56.55,607.26 57.90,606.95 59.24,606.63 60.59,606.30 61.94,605.95 63.29,605.59 64.64,605.21 65.99,604.81 67.33,604.40 68.68,603.97 70.03,603.53 71.38,603.07 72.73,602.59 74.08,602.09 75.42,601.57 76.77,601.03 78.12,600.47 79.47,599.89 80.82,599.29 82.16,598.67 83.51,598.03 84.86,597.36 86.21,596.67 87.56,595.96 88.91,595.22 90.25,594.46 91.60,593.68 92.95,592.87 94.30,592.03 95.65,591.17 97.00,590.28 98.34,589.36 99.69,588.42 101.04,587.45 102.39,586.46 103.74,585.43 105.09,584.38 106.43,583.30 107.78,582.19 109.13,581.05 110.48,579.88 111.83,578.69 113.17,577.46 114.52,576.21 115.87,574.93 117.22,573.61 118.57,572.27 119.92,570.90 121.26,569.50 122.61,568.08 123.96,566.62 125.31,565.14 126.66,563.63 128.01,562.09 129.35,560.52 130.70,558.93 132.05,557.31 133.40,555.66 134.75,553.99 136.09,552.30 137.44,550.58 138.79,548.84 140.14,547.07 141.49,545.29 142.84,543.48 144.18,541.65 145.53,539.80 146.88,537.94 148.23,536.06 149.58,534.16 150.93,532.25 152.27,530.32 153.62,528.39 154.97,526.44 156.32,524.48 157.67,522.51 159.02,520.53 160.36,518.55 161.71,516.57 163.06,514.58 164.41,512.59 165.76,510.60 167.10,508.61 168.45,506.63 169.80,504.65 171.15,502.68 172.50,500.72 173.85,498.76 175.19,496.82 176.54,494.89 177.89,492.98 179.24,491.09 180.59,489.21 181.94,487.35 183.28,485.52 184.63,483.71 185.98,481.93 187.33,480.18 188.68,478.45 190.02,476.76 191.37,475.10 192.72,473.47 194.07,471.88 195.42,470.33 196.77,468.82 198.11,467.35 199.46,465.92 200.81,464.54 202.16,463.21 203.51,461.92 204.86,460.68 206.20,459.49 207.55,458.35 208.90,457.27 210.25,456.24 211.60,455.27 212.95,454.35 214.29,453.49 215.64,452.69 216.99,451.95 218.34,451.27 219.69,450.65 221.03,450.09 222.38,449.59 223.73,449.16 225.08,448.79 226.43,448.49 227.78,448.25 229.12,448.07 230.47,447.96 231.82,447.91 233.17,447.93 234.52,448.02 235.87,448.17 237.21,448.38 238.56,448.66 239.91,449.00 241.26,449.41 242.61,449.88 243.95,450.41 245.30,451.01 246.65,451.67 248.00,452.38 249.35,453.16 250.70,454.00 252.04,454.89 253.39,455.85 254.74,456.85 256.09,457.91 257.44,459.03 258.79,460.20 260.13,461.42 261.48,462.69 262.83,464.00 264.18,465.37 265.53,466.78 266.88,468.23 268.22,469.72 269.57,471.26 270.92,472.83 272.27,474.44 273.62,476.09 274.96,477.77 276.31,479.48 277.66,481.23 279.01,483.00 280.36,484.80 281.71,486.62 283.05,488.47 284.40,490.33 285.75,492.22 287.10,494.13 288.45,496.05 289.80,497.98 291.14,499.93 292.49,501.89 293.84,503.86 295.19,505.84 296.54,507.82 297.88,509.81 299.23,511.79 300.58,513.78 301.93,515.77 303.28,517.76 304.63,519.74 305.97,521.72 307.32,523.69 308.67,525.65 310.02,527.61 311.37,529.55 312.72,531.48 314.06,533.40 315.41,535.30 316.76,537.19 318.11,539.06 319.46,540.91 320.81,542.75 322.15,544.56 323.50,546.36 324.85,548.13 326.20,549.88 327.55,551.61 328.89,553.32 330.24,555.00 331.59,556.65 332.94,558.28 334.29,559.89 335.64,561.46 336.98,563.01 338.33,564.54 339.68,566.03 341.03,567.50 342.38,568.94 343.73,570.35 345.07,571.73 346.42,573.08 347.77,574.40 349.12,575.70 350.47,576.96 351.81,578.20 353.16,579.41 354.51,580.59 355.86,581.74 357.21,582.86 358.56,583.95 359.90,585.01 361.25,586.05 362.60,587.06 363.95,588.04 365.30,588.99 366.65,589.92 367.99,590.82 369.34,591.69 370.69,592.53 372.04,593.36 373.39,594.15 374.74,594.92 376.08,595.67 377.43,596.39 378.78,597.09 380.13,597.76 381.48,598.42 382.82,599.05 384.17,599.66 385.52,600.24 386.87,600.81 388.22,601.36 389.57,601.88 390.91,602.39 392.26,602.88 393.61,603.35 394.96,603.80 396.31,604.23 397.66,604.65 399.00,605.05 400.35,605.44 401.70,605.81 403.05,606.16 404.40,606.50 405.74,606.83 407.09,607.14 408.44,607.44 409.79,607.72 411.14,608.00 412.49,608.26 413.83,608.51 415.18,608.75 416.53,608.97 417.88,609.19 419.23,609.40 420.58,609.60 421.92,609.78 423.27,609.96 424.62,610.14 425.97,610.30 427.32,610.45 428.67,610.60 430.01,610.74 431.36,610.87 432.71,611.00 434.06,611.12 435.41,611.23 436.75,611.34 438.10,611.44 439.45,611.54 440.80,611.63 442.15,611.72 443.50,611.80 444.84,611.88 446.19,611.95 447.54,612.02 448.89,612.09 450.24,612.15 451.59,612.21 452.93,612.27 454.28,612.32 455.63,612.37 456.98,612.41 458.33,612.46 459.67,612.50 461.02,612.54 462.37,612.57 463.72,612.61 465.07,612.64 466.42,612.67 467.76,612.70 469.11,612.73 470.46,612.75 471.81,612.78 473.16,612.80 474.51,612.82 475.85,612.84 477.20,612.86 478.55,612.87 479.90,612.89 481.25,612.90 482.60,612.92 483.94,612.93 485.29,612.94 486.64,612.95 487.99,612.96 489.34,612.97 490.68,612.98 492.03,612.99 493.38,613.00 494.73,613.01 496.08,613.01 497.43,613.02 498.77,613.03 500.12,613.03 501.47,613.04 502.82,613.04 504.17,613.05 505.52,613.05 506.86,613.05 508.21,613.06 509.56,613.06 510.91,613.06 512.26,613.07 513.60,613.07 514.95,613.07 516.30,613.07 517.65,613.08 519.00,613.08 520.35,613.08 521.69,613.08 523.04,613.08 524.39,613.08 525.74,613.09 527.09,613.09 528.44,613.09 529.78,613.09 531.13,613.09 532.48,613.09 533.83,613.09 535.18,613.09 536.53,613.09 537.87,613.09 539.22,613.09 540.57,613.09 541.92,613.10 543.27,613.10 544.61,613.10 545.96,613.10 547.31,613.10 548.66,613.10 550.01,613.10 551.36,613.10 552.70,613.10 554.05,613.10 555.40,613.10 556.75,613.10 558.10,613.10 559.45,613.10 560.79,613.10 562.14,613.10 563.49,613.10 564.84,613.10 566.19,613.10 567.53,613.10 568.88,613.10 570.23,613.10 571.58,613.10 572.93,613.10 574.28,613.10 575.62,613.10 576.97,613.10 578.32,613.10 579.67,613.10 581.02,613.10 582.37,613.10 583.71,613.10 585.06,613.10 586.41,613.10 587.76,613.10 589.11,613.10 590.46,613.10 591.80,613.10 593.15,613.10 594.50,613.10" fill="none" stroke="#0000cc" stroke-width="2.0" stroke-linejoin="round"/>
<text x="42.00" y="618.36" text-anchor="end" font-size="14.6" font-weight="bold">0</text>
<text x="42.00" y="564.20" text-anchor="end" font-size="14.6" font-weight="bold">10</text>
<text x="42.00" y="510.04" text-anchor="end" font-size="14.6" font-weight="bold">20</text>
<text x="42.00" y="455.88" text-anchor="end" font-size="14.6" font-weight="bold">30</text>
<text x="42.00" y="401.72" text-anchor="end" font-size="14.6" font-weight="bold">40</text>
<text x="42.00" y="347.56" text-anchor="end" font-size="14.6" font-weight="bold">50</text>
<text x="55.20" y="638.40" text-anchor="middle" font-size="14.6" font-weight="bold">0</text>
<text x="109.13" y="638.40" text-anchor="middle" font-size="14.6" font-weight="bold">1</text>
<text x="163.06" y="638.40" text-anchor="middle" font-size="14.6" font-weight="bold">2</text>
<text x="216.99" y="638.40" text-anchor="middle" font-size="14.6" font-weight="bold">3</text>
<text x="270.92" y="638.40" text-anchor="middle" font-size="14.6" font-weight="bold">4</text>
<text x="324.85" y="638.40" text-anchor="middle" font-size="14.6" font-weight="bold">5</text>
<text x="378.78" y="638.40" text-anchor="middle" font-size="14.6" font-weight="bold">6</text>
<text x="432.71" y="638.40" text-anchor="middle" font-size="14.6" font-weight="bold">7</text>
<text x="486.64" y="638.40" text-anchor="middle" font-size="14.6" font-weight="bold">8</text>
<text x="540.57" y="638.40" text-anchor="middle" font-size="14.6" font-weight="bold">9</text>
<text x="594.50" y="638.40" text-anchor="middle" font-size="14.6" font-weight="bold">10</text>
<text x="259.90" y="666.50" font-size="14.6" font-weight="bold" textLength="126.30" lengthAdjust="spacingAndGlyphs">Fruit weight class</text>
<text transform="translate(11.00,528.60) rotate(-90)" x="0" y="0" font-size="14.6" font-weight="bold" textLength="102.00" lengthAdjust="spacingAndGlyphs">Proportion (%)</text>
<text x="72.50" y="366.20" font-size="14.6" font-weight="bold" textLength="19.90" lengthAdjust="spacingAndGlyphs">(C)</text>
<rect x="477.00" y="363.00" width="34.50" height="9.40" fill="#000000"/>
<text x="519.8" y="372.50" font-size="13.8" textLength="50.5" lengthAdjust="spacingAndGlyphs">Ettinger</text>
<rect x="477.00" y="381.74" width="34.50" height="9.40" fill="#ff0000"/><path d="M478.36,391.14L487.76,381.74M491.76,391.14L501.16,381.74M505.16,391.14L511.50,384.80" stroke="#ffc8c8" stroke-width="1.0" fill="none"/><rect x="477.30" y="382.04" width="33.90" height="9.10" fill="none" stroke="#ff0000" stroke-width="0.7" stroke-opacity="0.8"/>
<text x="519.8" y="391.24" font-size="13.8" textLength="42.0" lengthAdjust="spacingAndGlyphs">Fuerte</text>
<rect x="477.00" y="400.48" width="34.50" height="9.40" fill="#00ff00"/><path d="M477.00,405.90L482.42,400.48M486.42,409.88L495.82,400.48M499.82,409.88L509.22,400.48" stroke="#c84420" stroke-width="1.0" fill="none"/><rect x="477.30" y="400.78" width="33.90" height="9.10" fill="none" stroke="#ff5040" stroke-width="0.7" stroke-opacity="0.8"/>
<text x="519.8" y="409.98" font-size="13.8" textLength="33.0" lengthAdjust="spacingAndGlyphs">Hass</text>
<rect x="477.00" y="419.22" width="34.50" height="9.40" fill="#ffff00"/><path d="M477.00,419.30L477.08,419.22M481.08,428.62L490.48,419.22M494.48,428.62L503.88,419.22M507.88,428.62L511.50,425.00" stroke="#40e020" stroke-width="1.0" fill="none"/><rect x="477.30" y="419.52" width="33.90" height="9.10" fill="none" stroke="#70f050" stroke-width="0.7" stroke-opacity="0.8"/>
<text x="519.8" y="428.72" font-size="13.8" textLength="38.8" lengthAdjust="spacingAndGlyphs">Nabal</text>
<rect x="477.00" y="437.96" width="34.50" height="9.40" fill="#0000ff"/><path d="M477.00,446.10L485.14,437.96M489.14,447.36L498.54,437.96M502.54,447.36L511.50,438.40" stroke="#e0e050" stroke-width="1.0" fill="none"/><rect x="477.30" y="438.26" width="33.90" height="9.10" fill="none" stroke="#e0e030" stroke-width="0.7" stroke-opacity="0.8"/>
<text x="519.8" y="447.46" font-size="13.8" textLength="34.7" lengthAdjust="spacingAndGlyphs">Reed</text>
<path d="M477,461.40 H511.7" stroke="#000000" stroke-width="2"/>
<text x="519.8" y="466.20" font-size="13.8" textLength="50.5" lengthAdjust="spacingAndGlyphs">Ettinger</text>
<path d="M477,480.14 H511.7" stroke="#ff0000" stroke-width="2"/>
<text x="519.8" y="484.94" font-size="13.8" textLength="42.0" lengthAdjust="spacingAndGlyphs">Fuerte</text>
<path d="M477,498.88 H511.7" stroke="#00ff00" stroke-width="2"/>
<text x="519.8" y="503.68" font-size="13.8" textLength="33.0" lengthAdjust="spacingAndGlyphs">Hass</text>
<path d="M477,517.62 H511.7" stroke="#ffff00" stroke-width="2"/>
<text x="519.8" y="522.42" font-size="13.8" textLength="38.8" lengthAdjust="spacingAndGlyphs">Nabal</text>
<path d="M477,536.36 H511.7" stroke="#0000cc" stroke-width="2"/>
<text x="519.8" y="541.16" font-size="13.8" textLength="34.7" lengthAdjust="spacingAndGlyphs">Reed</text>
</svg>
</body></html>
